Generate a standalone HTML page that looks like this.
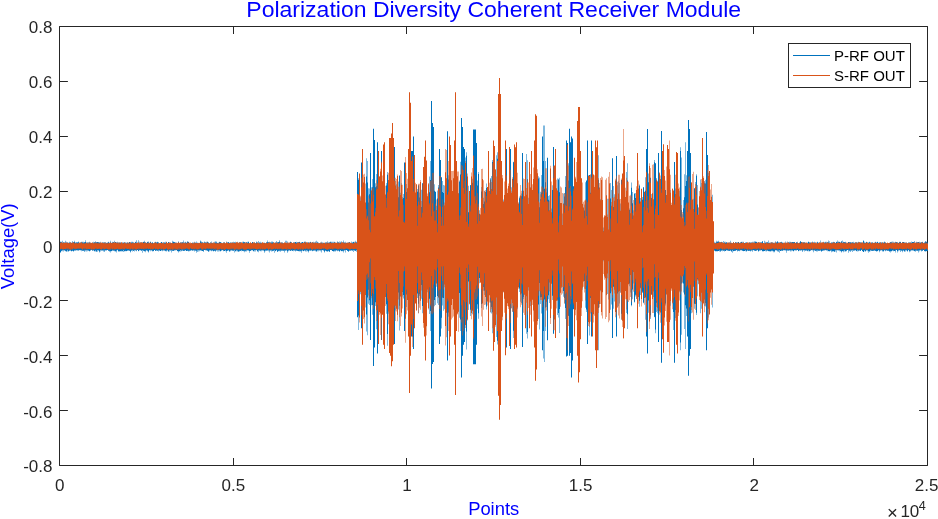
<!DOCTYPE html>
<html><head><meta charset="utf-8"><title>Polarization Diversity Coherent Receiver Module</title>
<style>html,body{margin:0;padding:0;background:#fff}body{width:938px;height:519px;overflow:hidden}</style></head>
<body>
<svg width="938" height="519" viewBox="0 0 938 519" style="display:block">
<rect width="938" height="519" fill="#fff"/>
<path d="M59.5 26.5H927.5V465.5H59.5ZM59.5 465.5v-7.5M59.5 26.5v7.5M233.5 465.5v-7.5M233.5 26.5v7.5M406.5 465.5v-7.5M406.5 26.5v7.5M580.5 465.5v-7.5M580.5 26.5v7.5M753.5 465.5v-7.5M753.5 26.5v7.5M927.5 465.5v-7.5M927.5 26.5v7.5M59.5 26.5h8.4M927.5 26.5h-8.4M59.5 81.5h8.4M927.5 81.5h-8.4M59.5 136.5h8.4M927.5 136.5h-8.4M59.5 191.5h8.4M927.5 191.5h-8.4M59.5 246.5h8.4M927.5 246.5h-8.4M59.5 300.5h8.4M927.5 300.5h-8.4M59.5 355.5h8.4M927.5 355.5h-8.4M59.5 410.5h8.4M927.5 410.5h-8.4M59.5 465.5h8.4M927.5 465.5h-8.4" fill="none" stroke="#262626" stroke-width="1"/>
<g>
<path fill="#0072BD" d="M60 241.7v11.0h0.5v-11.0zM60.5 241.7v10.5h0.5v-10.5zM61 242.6v8.7h0.5v-8.7zM61.5 241.8v9.0h0.5v-9.0zM62 243.2v8.1h0.5v-8.1zM62.5 240.8v9.1h0.5v-9.1zM63 241.9v9.5h0.5v-9.5zM63.5 242.8v7.3h0.5v-7.3zM64 243.5v6.7h0.5v-6.7zM64.5 242.1v8.4h0.5v-8.4zM65 240.8v10.0h0.5v-10.0zM65.5 242.7v8.5h0.5v-8.5zM66 243.4v8.6h0.5v-8.6zM66.5 241.7v9.2h0.5v-9.2zM67 242.5v7.6h0.5v-7.6zM67.5 242.6v8.8h0.5v-8.8zM68 242.7v8.9h0.5v-8.9zM68.5 243.2v8.1h0.5v-8.1zM69 242.8v7.8h0.5v-7.8zM69.5 241.7v9.1h0.5v-9.1zM70 243.5v7.6h0.5v-7.6zM70.5 241.9v8.2h0.5v-8.2zM71 242.7v8.6h0.5v-8.6zM71.5 243.1v8.2h0.5v-8.2zM72 242.8v8.2h0.5v-8.2zM72.5 240.9v9.5h0.5v-9.5zM73 242.6v8.8h0.5v-8.8zM73.5 242.0v9.2h0.5v-9.2zM74 242.1v8.6h0.5v-8.6zM74.5 240.8v9.4h0.5v-9.4zM75 243.3v7.5h0.5v-7.5zM75.5 242.3v7.9h0.5v-7.9zM76 242.1v7.9h0.5v-7.9zM76.5 242.7v7.9h0.5v-7.9zM77 242.5v7.4h0.5v-7.4zM77.5 242.2v8.5h0.5v-8.5zM78 241.6v8.5h0.5v-8.5zM78.5 242.3v8.7h0.5v-8.7zM79 243.0v7.0h0.5v-7.0zM79.5 243.3v6.9h0.5v-6.9zM80 243.3v7.1h0.5v-7.1zM80.5 241.9v8.0h0.5v-8.0zM81 241.8v9.4h0.5v-9.4zM81.5 242.4v7.6h0.5v-7.6zM82 241.7v8.8h0.5v-8.8zM82.5 242.5v8.4h0.5v-8.4zM83 241.7v9.0h0.5v-9.0zM83.5 242.9v7.8h0.5v-7.8zM84 242.5v9.4h0.5v-9.4zM84.5 242.0v8.4h0.5v-8.4zM85 242.0v9.2h0.5v-9.2zM85.5 240.3v9.8h0.5v-9.8zM86 242.8v8.7h0.5v-8.7zM86.5 243.3v6.7h0.5v-6.7zM87 243.2v8.0h0.5v-8.0zM87.5 242.0v8.1h0.5v-8.1zM88 242.2v8.3h0.5v-8.3zM88.5 243.5v7.2h0.5v-7.2zM89 241.8v9.4h0.5v-9.4zM89.5 242.7v8.5h0.5v-8.5zM90 242.5v7.7h0.5v-7.7zM90.5 243.2v7.6h0.5v-7.6zM91 243.2v6.6h0.5v-6.6zM91.5 243.1v6.9h0.5v-6.9zM92 242.2v8.1h0.5v-8.1zM92.5 243.0v8.0h0.5v-8.0zM93 241.8v8.9h0.5v-8.9zM93.5 243.4v6.7h0.5v-6.7zM94 242.1v9.3h0.5v-9.3zM94.5 242.6v8.4h0.5v-8.4zM95 242.6v7.6h0.5v-7.6zM95.5 241.3v10.1h0.5v-10.1zM96 242.6v9.1h0.5v-9.1zM96.5 242.1v9.3h0.5v-9.3zM97 242.0v7.9h0.5v-7.9zM97.5 242.1v9.7h0.5v-9.7zM98 242.5v8.1h0.5v-8.1zM98.5 241.9v8.6h0.5v-8.6zM99 242.3v10.3h0.5v-10.3zM99.5 242.8v8.7h0.5v-8.7zM100 241.8v8.3h0.5v-8.3zM100.5 243.5v7.9h0.5v-7.9zM101 243.1v7.4h0.5v-7.4zM101.5 243.5v7.1h0.5v-7.1zM102 243.3v7.5h0.5v-7.5zM102.5 242.1v8.1h0.5v-8.1zM103 243.4v6.8h0.5v-6.8zM103.5 241.9v9.5h0.5v-9.5zM104 241.9v10.2h0.5v-10.2zM104.5 243.3v7.1h0.5v-7.1zM105 241.9v8.1h0.5v-8.1zM105.5 243.5v7.3h0.5v-7.3zM106 242.7v7.4h0.5v-7.4zM106.5 243.2v7.6h0.5v-7.6zM107 242.9v7.0h0.5v-7.0zM107.5 242.5v7.4h0.5v-7.4zM108 241.8v9.3h0.5v-9.3zM108.5 242.2v8.4h0.5v-8.4zM109 242.4v8.4h0.5v-8.4zM109.5 243.4v8.4h0.5v-8.4zM110 240.7v11.9h0.5v-11.9zM110.5 242.4v8.6h0.5v-8.6zM111 243.0v8.3h0.5v-8.3zM111.5 242.7v8.2h0.5v-8.2zM112 241.7v8.6h0.5v-8.6zM112.5 242.7v8.0h0.5v-8.0zM113 242.3v8.5h0.5v-8.5zM113.5 242.1v8.3h0.5v-8.3zM114 243.3v8.0h0.5v-8.0zM114.5 240.8v9.8h0.5v-9.8zM115 242.0v9.2h0.5v-9.2zM115.5 242.0v9.5h0.5v-9.5zM116 241.9v8.6h0.5v-8.6zM116.5 243.2v9.2h0.5v-9.2zM117 241.8v8.0h0.5v-8.0zM117.5 243.0v7.2h0.5v-7.2zM118 243.4v7.9h0.5v-7.9zM118.5 242.3v9.2h0.5v-9.2zM119 242.5v8.9h0.5v-8.9zM119.5 242.7v8.5h0.5v-8.5zM120 242.2v9.3h0.5v-9.3zM120.5 242.7v8.4h0.5v-8.4zM121 242.9v7.8h0.5v-7.8zM121.5 243.3v8.1h0.5v-8.1zM122 242.3v8.7h0.5v-8.7zM122.5 243.4v8.0h0.5v-8.0zM123 242.6v9.5h0.5v-9.5zM123.5 242.8v7.3h0.5v-7.3zM124 241.9v9.4h0.5v-9.4zM124.5 242.7v8.6h0.5v-8.6zM125 243.5v7.3h0.5v-7.3zM125.5 242.3v8.9h0.5v-8.9zM126 242.6v8.7h0.5v-8.7zM126.5 243.4v7.5h0.5v-7.5zM127 243.0v8.0h0.5v-8.0zM127.5 242.0v8.2h0.5v-8.2zM128 243.1v7.6h0.5v-7.6zM128.5 243.2v7.0h0.5v-7.0zM129 242.1v8.7h0.5v-8.7zM129.5 242.0v8.8h0.5v-8.8zM130 242.3v9.3h0.5v-9.3zM130.5 243.2v9.2h0.5v-9.2zM131 241.7v8.6h0.5v-8.6zM131.5 242.8v8.1h0.5v-8.1zM132 241.8v8.1h0.5v-8.1zM132.5 242.5v9.0h0.5v-9.0zM133 242.3v8.4h0.5v-8.4zM133.5 243.2v7.8h0.5v-7.8zM134 242.7v7.3h0.5v-7.3zM134.5 243.3v8.1h0.5v-8.1zM135 242.0v8.3h0.5v-8.3zM135.5 241.8v8.6h0.5v-8.6zM136 242.8v7.7h0.5v-7.7zM136.5 240.3v10.9h0.5v-10.9zM137 243.4v6.6h0.5v-6.6zM137.5 242.2v7.9h0.5v-7.9zM138 243.1v8.1h0.5v-8.1zM138.5 240.3v10.7h0.5v-10.7zM139 241.8v8.7h0.5v-8.7zM139.5 243.4v6.7h0.5v-6.7zM140 242.5v7.8h0.5v-7.8zM140.5 243.3v7.0h0.5v-7.0zM141 242.8v8.3h0.5v-8.3zM141.5 242.0v8.6h0.5v-8.6zM142 243.3v6.7h0.5v-6.7zM142.5 242.9v9.8h0.5v-9.8zM143 241.7v9.1h0.5v-9.1zM143.5 241.9v8.9h0.5v-8.9zM144 242.3v9.0h0.5v-9.0zM144.5 240.7v10.5h0.5v-10.5zM145 243.1v7.6h0.5v-7.6zM145.5 242.1v10.2h0.5v-10.2zM146 242.9v7.2h0.5v-7.2zM146.5 242.8v7.9h0.5v-7.9zM147 241.7v9.6h0.5v-9.6zM147.5 242.1v8.5h0.5v-8.5zM148 242.4v10.0h0.5v-10.0zM148.5 241.6v9.9h0.5v-9.9zM149 243.0v7.4h0.5v-7.4zM149.5 243.3v6.8h0.5v-6.8zM150 241.6v9.7h0.5v-9.7zM150.5 241.9v8.2h0.5v-8.2zM151 242.7v7.8h0.5v-7.8zM151.5 243.2v7.0h0.5v-7.0zM152 242.2v9.2h0.5v-9.2zM152.5 242.4v8.4h0.5v-8.4zM153 243.3v7.6h0.5v-7.6zM153.5 243.5v7.7h0.5v-7.7zM154 242.2v7.7h0.5v-7.7zM154.5 243.1v7.0h0.5v-7.0zM155 241.7v9.3h0.5v-9.3zM155.5 242.3v8.4h0.5v-8.4zM156 243.1v7.6h0.5v-7.6zM156.5 242.0v8.3h0.5v-8.3zM157 242.2v8.8h0.5v-8.8zM157.5 241.7v8.8h0.5v-8.8zM158 243.4v6.8h0.5v-6.8zM158.5 242.1v9.3h0.5v-9.3zM159 243.5v6.7h0.5v-6.7zM159.5 243.0v7.7h0.5v-7.7zM160 243.4v7.7h0.5v-7.7zM160.5 242.8v8.3h0.5v-8.3zM161 241.9v8.8h0.5v-8.8zM161.5 242.0v7.9h0.5v-7.9zM162 243.2v8.1h0.5v-8.1zM162.5 242.6v7.6h0.5v-7.6zM163 243.4v6.5h0.5v-6.5zM163.5 242.3v8.5h0.5v-8.5zM164 242.4v8.0h0.5v-8.0zM164.5 242.6v8.0h0.5v-8.0zM165 241.7v9.1h0.5v-9.1zM165.5 243.1v8.2h0.5v-8.2zM166 241.8v9.7h0.5v-9.7zM166.5 242.2v8.3h0.5v-8.3zM167 243.1v7.4h0.5v-7.4zM167.5 243.5v6.8h0.5v-6.8zM168 242.0v9.4h0.5v-9.4zM168.5 241.9v9.6h0.5v-9.6zM169 242.6v8.9h0.5v-8.9zM169.5 243.5v6.6h0.5v-6.6zM170 243.1v7.3h0.5v-7.3zM170.5 242.5v8.0h0.5v-8.0zM171 243.1v9.5h0.5v-9.5zM171.5 243.5v6.8h0.5v-6.8zM172 242.8v7.9h0.5v-7.9zM172.5 240.7v10.1h0.5v-10.1zM173 242.0v8.8h0.5v-8.8zM173.5 241.6v9.4h0.5v-9.4zM174 242.1v8.7h0.5v-8.7zM174.5 242.3v7.7h0.5v-7.7zM175 243.1v6.9h0.5v-6.9zM175.5 242.2v8.3h0.5v-8.3zM176 243.4v6.6h0.5v-6.6zM176.5 242.5v7.8h0.5v-7.8zM177 243.0v8.1h0.5v-8.1zM177.5 243.4v7.9h0.5v-7.9zM178 242.2v9.1h0.5v-9.1zM178.5 241.2v11.4h0.5v-11.4zM179 243.3v8.3h0.5v-8.3zM179.5 243.0v8.0h0.5v-8.0zM180 242.2v7.7h0.5v-7.7zM180.5 242.8v8.7h0.5v-8.7zM181 243.2v8.0h0.5v-8.0zM181.5 242.0v8.4h0.5v-8.4zM182 242.6v8.5h0.5v-8.5zM182.5 241.9v7.9h0.5v-7.9zM183 240.5v10.4h0.5v-10.4zM183.5 242.7v8.1h0.5v-8.1zM184 243.2v7.3h0.5v-7.3zM184.5 242.3v8.8h0.5v-8.8zM185 241.7v8.3h0.5v-8.3zM185.5 242.5v8.1h0.5v-8.1zM186 242.9v8.1h0.5v-8.1zM186.5 242.4v8.6h0.5v-8.6zM187 241.7v9.3h0.5v-9.3zM187.5 241.2v9.4h0.5v-9.4zM188 241.8v9.6h0.5v-9.6zM188.5 241.9v8.9h0.5v-8.9zM189 243.5v7.0h0.5v-7.0zM189.5 242.9v8.4h0.5v-8.4zM190 243.5v6.9h0.5v-6.9zM190.5 243.4v7.4h0.5v-7.4zM191 242.9v7.2h0.5v-7.2zM191.5 243.1v7.4h0.5v-7.4zM192 242.3v8.4h0.5v-8.4zM192.5 243.2v7.2h0.5v-7.2zM193 243.5v6.7h0.5v-6.7zM193.5 242.7v7.9h0.5v-7.9zM194 241.7v9.7h0.5v-9.7zM194.5 243.0v7.2h0.5v-7.2zM195 242.2v8.1h0.5v-8.1zM195.5 242.9v8.1h0.5v-8.1zM196 241.4v11.4h0.5v-11.4zM196.5 243.0v7.8h0.5v-7.8zM197 243.2v7.0h0.5v-7.0zM197.5 242.4v9.5h0.5v-9.5zM198 243.3v6.7h0.5v-6.7zM198.5 242.9v8.5h0.5v-8.5zM199 243.0v6.9h0.5v-6.9zM199.5 243.0v8.3h0.5v-8.3zM200 241.6v8.8h0.5v-8.8zM200.5 240.4v9.8h0.5v-9.8zM201 242.5v7.8h0.5v-7.8zM201.5 241.6v9.3h0.5v-9.3zM202 242.3v8.6h0.5v-8.6zM202.5 242.4v8.7h0.5v-8.7zM203 243.5v7.2h0.5v-7.2zM203.5 242.5v9.5h0.5v-9.5zM204 241.5v8.6h0.5v-8.6zM204.5 242.6v7.4h0.5v-7.4zM205 242.8v7.5h0.5v-7.5zM205.5 242.1v8.1h0.5v-8.1zM206 241.8v8.1h0.5v-8.1zM206.5 242.9v7.8h0.5v-7.8zM207 242.0v9.0h0.5v-9.0zM207.5 241.6v9.0h0.5v-9.0zM208 242.4v9.5h0.5v-9.5zM208.5 242.6v8.7h0.5v-8.7zM209 243.5v7.8h0.5v-7.8zM209.5 243.2v6.7h0.5v-6.7zM210 241.9v8.7h0.5v-8.7zM210.5 243.5v6.7h0.5v-6.7zM211 241.4v9.9h0.5v-9.9zM211.5 243.2v7.4h0.5v-7.4zM212 243.3v7.4h0.5v-7.4zM212.5 243.0v7.2h0.5v-7.2zM213 242.6v8.7h0.5v-8.7zM213.5 243.5v7.7h0.5v-7.7zM214 243.4v7.1h0.5v-7.1zM214.5 241.8v9.1h0.5v-9.1zM215 241.2v10.5h0.5v-10.5zM215.5 242.6v8.1h0.5v-8.1zM216 241.4v8.6h0.5v-8.6zM216.5 242.6v8.1h0.5v-8.1zM217 243.0v7.1h0.5v-7.1zM217.5 242.7v8.8h0.5v-8.8zM218 243.2v6.7h0.5v-6.7zM218.5 242.4v9.0h0.5v-9.0zM219 241.8v9.4h0.5v-9.4zM219.5 242.0v8.0h0.5v-8.0zM220 242.2v9.0h0.5v-9.0zM220.5 242.0v9.3h0.5v-9.3zM221 243.2v7.5h0.5v-7.5zM221.5 242.5v7.7h0.5v-7.7zM222 243.2v6.9h0.5v-6.9zM222.5 243.4v6.9h0.5v-6.9zM223 242.9v8.4h0.5v-8.4zM223.5 242.0v8.4h0.5v-8.4zM224 243.2v7.7h0.5v-7.7zM224.5 241.9v9.1h0.5v-9.1zM225 243.4v6.5h0.5v-6.5zM225.5 243.4v7.9h0.5v-7.9zM226 241.6v11.2h0.5v-11.2zM226.5 243.1v7.8h0.5v-7.8zM227 243.1v7.3h0.5v-7.3zM227.5 242.0v9.0h0.5v-9.0zM228 242.0v8.0h0.5v-8.0zM228.5 242.2v8.6h0.5v-8.6zM229 242.9v9.1h0.5v-9.1zM229.5 242.7v8.3h0.5v-8.3zM230 242.8v7.4h0.5v-7.4zM230.5 242.2v9.1h0.5v-9.1zM231 242.6v8.1h0.5v-8.1zM231.5 243.3v6.8h0.5v-6.8zM232 243.1v7.6h0.5v-7.6zM232.5 242.1v8.4h0.5v-8.4zM233 243.4v7.0h0.5v-7.0zM233.5 241.7v9.3h0.5v-9.3zM234 242.3v10.3h0.5v-10.3zM234.5 242.5v7.6h0.5v-7.6zM235 243.1v7.9h0.5v-7.9zM235.5 241.7v9.8h0.5v-9.8zM236 243.0v8.3h0.5v-8.3zM236.5 242.8v7.2h0.5v-7.2zM237 243.2v7.2h0.5v-7.2zM237.5 241.8v9.6h0.5v-9.6zM238 243.0v8.8h0.5v-8.8zM238.5 243.4v8.0h0.5v-8.0zM239 242.6v8.2h0.5v-8.2zM239.5 242.3v9.1h0.5v-9.1zM240 242.4v8.7h0.5v-8.7zM240.5 242.0v8.7h0.5v-8.7zM241 243.2v8.1h0.5v-8.1zM241.5 243.1v7.0h0.5v-7.0zM242 243.5v7.4h0.5v-7.4zM242.5 241.8v8.9h0.5v-8.9zM243 241.4v9.8h0.5v-9.8zM243.5 242.2v8.5h0.5v-8.5zM244 242.1v10.1h0.5v-10.1zM244.5 242.2v8.6h0.5v-8.6zM245 243.4v7.4h0.5v-7.4zM245.5 242.5v8.9h0.5v-8.9zM246 242.3v9.1h0.5v-9.1zM246.5 242.2v8.1h0.5v-8.1zM247 242.9v7.6h0.5v-7.6zM247.5 241.8v8.5h0.5v-8.5zM248 241.7v9.0h0.5v-9.0zM248.5 241.8v8.5h0.5v-8.5zM249 243.4v9.3h0.5v-9.3zM249.5 243.3v7.6h0.5v-7.6zM250 243.2v7.6h0.5v-7.6zM250.5 242.9v8.0h0.5v-8.0zM251 243.3v7.0h0.5v-7.0zM251.5 243.2v7.0h0.5v-7.0zM252 242.0v8.5h0.5v-8.5zM252.5 241.9v8.2h0.5v-8.2zM253 242.7v8.8h0.5v-8.8zM253.5 242.9v8.1h0.5v-8.1zM254 243.1v7.0h0.5v-7.0zM254.5 242.0v9.4h0.5v-9.4zM255 243.1v8.5h0.5v-8.5zM255.5 243.5v6.6h0.5v-6.6zM256 242.6v7.7h0.5v-7.7zM256.5 241.5v8.4h0.5v-8.4zM257 243.0v8.4h0.5v-8.4zM257.5 242.3v8.9h0.5v-8.9zM258 243.2v7.0h0.5v-7.0zM258.5 241.1v11.2h0.5v-11.2zM259 241.9v9.1h0.5v-9.1zM259.5 243.3v6.6h0.5v-6.6zM260 241.7v8.9h0.5v-8.9zM260.5 243.1v8.2h0.5v-8.2zM261 242.5v7.5h0.5v-7.5zM261.5 243.2v8.0h0.5v-8.0zM262 242.6v7.7h0.5v-7.7zM262.5 243.5v6.9h0.5v-6.9zM263 243.0v7.0h0.5v-7.0zM263.5 243.0v8.0h0.5v-8.0zM264 243.0v9.8h0.5v-9.8zM264.5 242.6v8.7h0.5v-8.7zM265 243.4v6.8h0.5v-6.8zM265.5 243.2v8.1h0.5v-8.1zM266 242.0v8.7h0.5v-8.7zM266.5 242.8v7.8h0.5v-7.8zM267 242.3v8.3h0.5v-8.3zM267.5 240.5v9.9h0.5v-9.9zM268 242.1v7.7h0.5v-7.7zM268.5 242.4v8.8h0.5v-8.8zM269 242.7v9.9h0.5v-9.9zM269.5 241.7v8.9h0.5v-8.9zM270 243.1v7.5h0.5v-7.5zM270.5 242.0v8.6h0.5v-8.6zM271 242.8v7.4h0.5v-7.4zM271.5 241.5v9.9h0.5v-9.9zM272 242.6v8.7h0.5v-8.7zM272.5 241.5v9.2h0.5v-9.2zM273 242.7v8.2h0.5v-8.2zM273.5 242.0v8.5h0.5v-8.5zM274 243.4v6.6h0.5v-6.6zM274.5 243.2v9.5h0.5v-9.5zM275 241.9v9.3h0.5v-9.3zM275.5 243.1v7.8h0.5v-7.8zM276 241.0v9.2h0.5v-9.2zM276.5 242.7v7.5h0.5v-7.5zM277 242.4v9.5h0.5v-9.5zM277.5 242.3v9.2h0.5v-9.2zM278 241.9v8.8h0.5v-8.8zM278.5 242.2v9.1h0.5v-9.1zM279 240.3v10.3h0.5v-10.3zM279.5 241.8v9.4h0.5v-9.4zM280 242.4v9.3h0.5v-9.3zM280.5 243.4v7.0h0.5v-7.0zM281 243.2v7.1h0.5v-7.1zM281.5 242.0v9.0h0.5v-9.0zM282 243.2v7.2h0.5v-7.2zM282.5 242.3v8.4h0.5v-8.4zM283 243.0v7.4h0.5v-7.4zM283.5 243.5v7.4h0.5v-7.4zM284 242.8v7.6h0.5v-7.6zM284.5 243.1v9.5h0.5v-9.5zM285 242.9v7.5h0.5v-7.5zM285.5 240.7v10.0h0.5v-10.0zM286 243.4v7.3h0.5v-7.3zM286.5 240.8v9.2h0.5v-9.2zM287 243.5v9.3h0.5v-9.3zM287.5 241.6v9.7h0.5v-9.7zM288 243.4v6.8h0.5v-6.8zM288.5 242.8v8.4h0.5v-8.4zM289 243.5v6.4h0.5v-6.4zM289.5 242.8v7.9h0.5v-7.9zM290 241.7v9.0h0.5v-9.0zM290.5 241.8v9.1h0.5v-9.1zM291 241.9v8.7h0.5v-8.7zM291.5 242.9v7.4h0.5v-7.4zM292 243.4v7.7h0.5v-7.7zM292.5 243.4v7.3h0.5v-7.3zM293 243.3v6.7h0.5v-6.7zM293.5 242.1v9.2h0.5v-9.2zM294 242.3v8.5h0.5v-8.5zM294.5 242.8v7.4h0.5v-7.4zM295 242.0v9.4h0.5v-9.4zM295.5 242.1v8.4h0.5v-8.4zM296 241.8v8.9h0.5v-8.9zM296.5 242.9v7.6h0.5v-7.6zM297 242.8v8.2h0.5v-8.2zM297.5 242.0v8.7h0.5v-8.7zM298 242.1v9.1h0.5v-9.1zM298.5 242.6v8.3h0.5v-8.3zM299 241.9v8.8h0.5v-8.8zM299.5 241.7v9.7h0.5v-9.7zM300 243.1v8.3h0.5v-8.3zM300.5 243.3v7.5h0.5v-7.5zM301 243.0v9.7h0.5v-9.7zM301.5 241.9v8.8h0.5v-8.8zM302 242.0v8.9h0.5v-8.9zM302.5 242.0v7.9h0.5v-7.9zM303 242.3v8.9h0.5v-8.9zM303.5 243.3v7.6h0.5v-7.6zM304 241.7v9.1h0.5v-9.1zM304.5 241.8v8.4h0.5v-8.4zM305 241.4v10.1h0.5v-10.1zM305.5 242.5v7.9h0.5v-7.9zM306 242.6v7.5h0.5v-7.5zM306.5 243.5v7.9h0.5v-7.9zM307 243.4v7.1h0.5v-7.1zM307.5 242.4v8.9h0.5v-8.9zM308 242.2v9.0h0.5v-9.0zM308.5 242.5v10.0h0.5v-10.0zM309 242.8v7.4h0.5v-7.4zM309.5 242.7v8.0h0.5v-8.0zM310 241.9v8.8h0.5v-8.8zM310.5 241.8v8.7h0.5v-8.7zM311 243.2v7.1h0.5v-7.1zM311.5 242.7v7.8h0.5v-7.8zM312 242.6v8.6h0.5v-8.6zM312.5 241.9v8.8h0.5v-8.8zM313 241.8v8.9h0.5v-8.9zM313.5 242.9v7.5h0.5v-7.5zM314 243.5v7.6h0.5v-7.6zM314.5 242.2v7.8h0.5v-7.8zM315 241.4v8.8h0.5v-8.8zM315.5 242.8v8.4h0.5v-8.4zM316 243.1v7.8h0.5v-7.8zM316.5 240.7v11.3h0.5v-11.3zM317 241.8v9.5h0.5v-9.5zM317.5 242.6v7.4h0.5v-7.4zM318 243.5v6.4h0.5v-6.4zM318.5 242.5v8.7h0.5v-8.7zM319 243.2v7.0h0.5v-7.0zM319.5 243.2v7.2h0.5v-7.2zM320 242.5v7.6h0.5v-7.6zM320.5 243.2v8.1h0.5v-8.1zM321 242.9v7.4h0.5v-7.4zM321.5 241.7v10.9h0.5v-10.9zM322 242.2v8.0h0.5v-8.0zM322.5 243.4v6.7h0.5v-6.7zM323 242.9v8.1h0.5v-8.1zM323.5 242.7v7.4h0.5v-7.4zM324 242.9v9.5h0.5v-9.5zM324.5 243.3v8.1h0.5v-8.1zM325 242.0v8.2h0.5v-8.2zM325.5 243.3v7.7h0.5v-7.7zM326 241.9v9.0h0.5v-9.0zM326.5 243.4v8.0h0.5v-8.0zM327 241.3v10.1h0.5v-10.1zM327.5 243.1v8.4h0.5v-8.4zM328 242.8v7.9h0.5v-7.9zM328.5 242.4v8.8h0.5v-8.8zM329 242.3v9.1h0.5v-9.1zM329.5 242.5v9.6h0.5v-9.6zM330 241.9v8.2h0.5v-8.2zM330.5 241.6v8.3h0.5v-8.3zM331 241.7v8.6h0.5v-8.6zM331.5 242.7v7.2h0.5v-7.2zM332 241.7v9.4h0.5v-9.4zM332.5 243.0v8.0h0.5v-8.0zM333 241.8v9.4h0.5v-9.4zM333.5 243.0v8.4h0.5v-8.4zM334 241.7v9.7h0.5v-9.7zM334.5 242.2v8.2h0.5v-8.2zM335 242.8v8.6h0.5v-8.6zM335.5 242.5v8.1h0.5v-8.1zM336 243.0v7.8h0.5v-7.8zM336.5 243.2v6.8h0.5v-6.8zM337 242.6v8.6h0.5v-8.6zM337.5 241.3v9.1h0.5v-9.1zM338 242.2v8.2h0.5v-8.2zM338.5 242.4v8.4h0.5v-8.4zM339 241.6v9.9h0.5v-9.9zM339.5 243.0v8.4h0.5v-8.4zM340 242.8v8.0h0.5v-8.0zM340.5 241.8v8.2h0.5v-8.2zM341 242.9v8.3h0.5v-8.3zM341.5 241.2v9.7h0.5v-9.7zM342 242.3v8.4h0.5v-8.4zM342.5 242.8v8.4h0.5v-8.4zM343 240.5v11.9h0.5v-11.9zM343.5 242.6v8.1h0.5v-8.1zM344 242.8v7.1h0.5v-7.1zM344.5 242.6v8.1h0.5v-8.1zM345 241.7v10.9h0.5v-10.9zM345.5 243.2v6.9h0.5v-6.9zM346 243.0v7.0h0.5v-7.0zM346.5 242.8v7.2h0.5v-7.2zM347 242.8v7.9h0.5v-7.9zM347.5 242.9v8.0h0.5v-8.0zM348 243.4v7.9h0.5v-7.9zM348.5 242.1v9.9h0.5v-9.9zM349 242.2v8.7h0.5v-8.7zM349.5 242.1v8.2h0.5v-8.2zM350 243.1v8.0h0.5v-8.0zM350.5 243.4v6.9h0.5v-6.9zM351 241.6v8.7h0.5v-8.7zM351.5 243.1v7.4h0.5v-7.4zM352 243.2v7.9h0.5v-7.9zM352.5 241.9v8.3h0.5v-8.3zM353 241.8v10.3h0.5v-10.3zM353.5 241.9v8.2h0.5v-8.2zM354 241.7v9.3h0.5v-9.3zM354.5 243.0v7.1h0.5v-7.1zM355 242.6v8.1h0.5v-8.1zM355.5 240.8v10.2h0.5v-10.2zM356 242.5v9.2h0.5v-9.2zM356.5 241.7v8.3h0.5v-8.3zM357 171.9v145.4h0.5v-145.4zM357.5 171.9v145.4h0.5v-145.4zM358 178.3v137.3h0.5v-137.3zM358.5 180.1v149.8h0.5v-149.8zM359 218.9v53.9h0.5v-53.9zM359.5 206.3v78.9h0.5v-78.9zM360 201.4v88.7h0.5v-88.7zM360.5 197.3v96.9h0.5v-96.9zM361 162.6v165.7h0.5v-165.7zM361.5 162.6v165.7h0.5v-165.7zM362 188.4v118.7h0.5v-118.7zM362.5 209.4v72.4h0.5v-72.4zM363 205.0v81.5h0.5v-81.5zM363.5 219.4v52.8h0.5v-52.8zM364 209.5v70.1h0.5v-70.1zM364.5 209.7v69.4h0.5v-69.4zM365 209.4v74.9h0.5v-74.9zM365.5 216.9v61.5h0.5v-61.5zM366 176.5v154.9h0.5v-154.9zM366.5 158.3v156.3h0.5v-156.3zM367 161.1v174.1h0.5v-174.1zM367.5 182.6v114.8h0.5v-114.8zM368 188.2v115.5h0.5v-115.5zM368.5 202.6v87.2h0.5v-87.2zM369 188.4v116.7h0.5v-116.7zM369.5 194.2v106.1h0.5v-106.1zM370 153.0v187.1h0.5v-187.1zM370.5 153.0v187.1h0.5v-187.1zM371 187.3v118.0h0.5v-118.0zM371.5 196.0v99.3h0.5v-99.3zM372 187.2v117.9h0.5v-117.9zM372.5 179.0v135.7h0.5v-135.7zM373 128.8v237.3h0.5v-237.3zM373.5 128.8v237.3h0.5v-237.3zM374 140.1v207.4h0.5v-207.4zM374.5 140.1v207.4h0.5v-207.4zM375 187.3v115.0h0.5v-115.0zM375.5 183.3v122.8h0.5v-122.8zM376 186.3v121.5h0.5v-121.5zM376.5 173.9v155.3h0.5v-155.3zM377 142.3v211.3h0.5v-211.3zM377.5 142.3v211.3h0.5v-211.3zM378 190.8v112.5h0.5v-112.5zM378.5 187.8v118.6h0.5v-118.6zM379 206.5v80.9h0.5v-80.9zM379.5 205.1v81.4h0.5v-81.4zM380 198.4v94.7h0.5v-94.7zM380.5 192.1v107.4h0.5v-107.4zM381 151.1v189.0h0.5v-189.0zM381.5 151.1v189.0h0.5v-189.0zM382 185.2v121.1h0.5v-121.1zM382.5 192.1v115.2h0.5v-115.2zM383 193.0v100.5h0.5v-100.5zM383.5 184.3v128.2h0.5v-128.2zM384 184.0v128.2h0.5v-128.2zM384.5 199.9v89.6h0.5v-89.6zM385 218.8v52.4h0.5v-52.4zM385.5 206.5v69.2h0.5v-69.2zM386 185.6v118.7h0.5v-118.7zM386.5 183.0v130.7h0.5v-130.7zM387 174.7v159.2h0.5v-159.2zM387.5 172.0v173.8h0.5v-173.8zM388 181.0v132.7h0.5v-132.7zM388.5 224.7v41.7h0.5v-41.7zM389 207.8v80.4h0.5v-80.4zM389.5 183.7v131.1h0.5v-131.1zM390 183.8v111.5h0.5v-111.5zM390.5 182.2v129.5h0.5v-129.5zM391 183.6v122.0h0.5v-122.0zM391.5 208.4v82.4h0.5v-82.4zM392 187.0v120.4h0.5v-120.4zM392.5 187.0v123.1h0.5v-123.1zM393 185.3v118.6h0.5v-118.6zM393.5 160.1v171.1h0.5v-171.1zM394 147.0v197.0h0.5v-197.0zM394.5 147.0v197.0h0.5v-197.0zM395 180.9v129.5h0.5v-129.5zM395.5 202.0v87.5h0.5v-87.5zM396 190.3v108.4h0.5v-108.4zM396.5 184.2v118.6h0.5v-118.6zM397 182.4v132.3h0.5v-132.3zM397.5 197.5v98.4h0.5v-98.4zM398 181.4v128.2h0.5v-128.2zM398.5 197.2v95.4h0.5v-95.4zM399 176.0v154.4h0.5v-154.4zM399.5 175.0v130.8h0.5v-130.8zM400 206.8v76.3h0.5v-76.3zM400.5 192.7v104.4h0.5v-104.4zM401 183.2v122.4h0.5v-122.4zM401.5 187.0v123.4h0.5v-123.4zM402 199.6v97.0h0.5v-97.0zM402.5 197.1v94.9h0.5v-94.9zM403 198.0v97.0h0.5v-97.0zM403.5 193.9v104.5h0.5v-104.5zM404 162.6v168.5h0.5v-168.5zM404.5 162.6v168.5h0.5v-168.5zM405 199.4v94.1h0.5v-94.1zM405.5 191.2v111.4h0.5v-111.4zM406 184.0v123.1h0.5v-123.1zM406.5 192.1v102.5h0.5v-102.5zM407 210.4v65.3h0.5v-65.3zM407.5 222.5v47.5h0.5v-47.5zM408 213.2v68.4h0.5v-68.4zM408.5 217.5v55.0h0.5v-55.0zM409 207.4v75.3h0.5v-75.3zM409.5 199.6v90.7h0.5v-90.7zM410 191.8v105.8h0.5v-105.8zM410.5 176.9v153.4h0.5v-153.4zM411 151.1v185.5h0.5v-185.5zM411.5 151.1v185.5h0.5v-185.5zM412 151.1v185.5h0.5v-185.5zM412.5 151.1v185.5h0.5v-185.5zM413 136.5v212.4h0.5v-212.4zM413.5 136.5v212.4h0.5v-212.4zM414 160.6v158.2h0.5v-158.2zM414.5 180.8v131.3h0.5v-131.3zM415 199.2v90.7h0.5v-90.7zM415.5 211.6v66.7h0.5v-66.7zM416 210.6v69.0h0.5v-69.0zM416.5 189.6v111.0h0.5v-111.0zM417 189.1v108.9h0.5v-108.9zM417.5 191.8v101.7h0.5v-101.7zM418 184.8v118.9h0.5v-118.9zM418.5 185.5v127.6h0.5v-127.6zM419 197.5v96.8h0.5v-96.8zM419.5 192.6v103.4h0.5v-103.4zM420 200.2v96.9h0.5v-96.9zM420.5 202.5v87.0h0.5v-87.0zM421 206.9v78.0h0.5v-78.0zM421.5 189.8v109.0h0.5v-109.0zM422 183.6v129.7h0.5v-129.7zM422.5 183.1v123.0h0.5v-123.0zM423 184.4v116.9h0.5v-116.9zM423.5 181.1v116.2h0.5v-116.2zM424 184.0v117.2h0.5v-117.2zM424.5 196.5v99.2h0.5v-99.2zM425 192.9v103.6h0.5v-103.6zM425.5 197.9v91.9h0.5v-91.9zM426 200.3v91.6h0.5v-91.6zM426.5 196.5v97.7h0.5v-97.7zM427 213.8v60.8h0.5v-60.8zM427.5 198.4v93.9h0.5v-93.9zM428 198.4v94.8h0.5v-94.8zM428.5 221.3v47.1h0.5v-47.1zM429 192.2v106.6h0.5v-106.6zM429.5 176.6v137.4h0.5v-137.4zM430 179.9v131.0h0.5v-131.0zM430.5 160.9v170.1h0.5v-170.1zM431 100.9v287.5h0.5v-287.5zM431.5 100.9v287.5h0.5v-287.5zM432 123.1v240.9h0.5v-240.9zM432.5 123.1v240.9h0.5v-240.9zM433 126.9v235.1h0.5v-235.1zM433.5 126.9v235.1h0.5v-235.1zM434 184.3v121.9h0.5v-121.9zM434.5 190.7v109.2h0.5v-109.2zM435 191.8v105.2h0.5v-105.2zM435.5 191.8v113.2h0.5v-113.2zM436 205.7v74.2h0.5v-74.2zM436.5 213.4v67.1h0.5v-67.1zM437 198.5v97.5h0.5v-97.5zM437.5 190.5v112.7h0.5v-112.7zM438 184.9v112.4h0.5v-112.4zM438.5 187.6v117.3h0.5v-117.3zM439 148.9v195.1h0.5v-195.1zM439.5 148.9v195.1h0.5v-195.1zM440 160.1v176.4h0.5v-176.4zM440.5 160.1v176.4h0.5v-176.4zM441 177.2v140.5h0.5v-140.5zM441.5 177.2v151.4h0.5v-151.4zM442 181.0v124.6h0.5v-124.6zM442.5 192.1v105.3h0.5v-105.3zM443 193.1v105.0h0.5v-105.0zM443.5 185.1v125.7h0.5v-125.7zM444 185.5v123.8h0.5v-123.8zM444.5 220.5v54.6h0.5v-54.6zM445 203.2v85.5h0.5v-85.5zM445.5 202.6v86.7h0.5v-86.7zM446 187.9v116.1h0.5v-116.1zM446.5 178.9v134.1h0.5v-134.1zM447 131.3v229.1h0.5v-229.1zM447.5 131.3v229.1h0.5v-229.1zM448 175.2v141.5h0.5v-141.5zM448.5 179.4v133.1h0.5v-133.1zM449 204.4v83.2h0.5v-83.2zM449.5 209.7v72.5h0.5v-72.5zM450 222.3v49.4h0.5v-49.4zM450.5 231.4v28.7h0.5v-28.7zM451 230.6v31.6h0.5v-31.6zM451.5 210.8v71.1h0.5v-71.1zM452 199.5v92.2h0.5v-92.2zM452.5 201.2v89.1h0.5v-89.1zM453 219.3v50.1h0.5v-50.1zM453.5 207.7v78.6h0.5v-78.6zM454 192.7v113.4h0.5v-113.4zM454.5 197.1v98.7h0.5v-98.7zM455 186.1v113.7h0.5v-113.7zM455.5 186.1v116.9h0.5v-116.9zM456 215.6v57.6h0.5v-57.6zM456.5 233.7v24.9h0.5v-24.9zM457 233.7v23.8h0.5v-23.8zM457.5 197.7v97.3h0.5v-97.3zM458 192.9v111.3h0.5v-111.3zM458.5 204.4v80.8h0.5v-80.8zM459 181.7v111.4h0.5v-111.4zM459.5 180.5v137.3h0.5v-137.3zM460 174.5v145.0h0.5v-145.0zM460.5 161.8v169.2h0.5v-169.2zM461 118.1v259.3h0.5v-259.3zM461.5 118.1v259.3h0.5v-259.3zM462 126.9v228.8h0.5v-228.8zM462.5 126.9v228.8h0.5v-228.8zM463 147.0v197.8h0.5v-197.8zM463.5 147.0v197.8h0.5v-197.8zM464 148.9v193.2h0.5v-193.2zM464.5 148.9v193.2h0.5v-193.2zM465 172.4v143.6h0.5v-143.6zM465.5 157.6v161.9h0.5v-161.9zM466 152.2v197.2h0.5v-197.2zM466.5 155.7v175.7h0.5v-175.7zM467 193.7v100.5h0.5v-100.5zM467.5 181.9v131.2h0.5v-131.2zM468 185.7v124.4h0.5v-124.4zM468.5 212.3v69.2h0.5v-69.2zM469 199.9v87.0h0.5v-87.0zM469.5 194.1v96.9h0.5v-96.9zM470 185.2v124.6h0.5v-124.6zM470.5 185.1v131.0h0.5v-131.0zM471 202.5v87.7h0.5v-87.7zM471.5 192.1v108.5h0.5v-108.5zM472 178.7v135.6h0.5v-135.6zM472.5 182.8v127.8h0.5v-127.8zM473 129.4v234.9h0.5v-234.9zM473.5 129.4v234.9h0.5v-234.9zM474 129.4v234.9h0.5v-234.9zM474.5 129.4v234.9h0.5v-234.9zM475 129.4v234.9h0.5v-234.9zM475.5 129.4v234.9h0.5v-234.9zM476 143.1v201.7h0.5v-201.7zM476.5 143.1v201.7h0.5v-201.7zM477 180.6v128.2h0.5v-128.2zM477.5 185.5v118.7h0.5v-118.7zM478 171.9v146.8h0.5v-146.8zM478.5 173.9v139.3h0.5v-139.3zM479 210.3v72.9h0.5v-72.9zM479.5 214.1v64.0h0.5v-64.0zM480 215.7v63.1h0.5v-63.1zM480.5 221.4v51.5h0.5v-51.5zM481 191.6v112.5h0.5v-112.5zM481.5 187.1v120.9h0.5v-120.9zM482 192.3v110.2h0.5v-110.2zM482.5 218.9v58.1h0.5v-58.1zM483 197.8v89.2h0.5v-89.2zM483.5 204.0v86.8h0.5v-86.8zM484 201.4v89.4h0.5v-89.4zM484.5 190.7v104.2h0.5v-104.2zM485 197.1v95.9h0.5v-95.9zM485.5 196.0v95.7h0.5v-95.7zM486 183.6v126.0h0.5v-126.0zM486.5 188.0v118.4h0.5v-118.4zM487 222.8v46.8h0.5v-46.8zM487.5 212.0v64.6h0.5v-64.6zM488 205.4v78.5h0.5v-78.5zM488.5 207.9v75.9h0.5v-75.9zM489 197.7v93.5h0.5v-93.5zM489.5 197.7v92.3h0.5v-92.3zM490 179.4v123.2h0.5v-123.2zM490.5 178.1v134.3h0.5v-134.3zM491 189.2v117.7h0.5v-117.7zM491.5 175.9v137.7h0.5v-137.7zM492 159.9v173.4h0.5v-173.4zM492.5 162.1v150.1h0.5v-150.1zM493 198.0v93.0h0.5v-93.0zM493.5 216.3v63.6h0.5v-63.6zM494 201.7v83.2h0.5v-83.2zM494.5 199.5v102.7h0.5v-102.7zM495 198.4v92.9h0.5v-92.9zM495.5 211.7v63.4h0.5v-63.4zM496 209.0v73.6h0.5v-73.6zM496.5 155.2v181.9h0.5v-181.9zM497 152.2v192.3h0.5v-192.3zM497.5 158.7v182.1h0.5v-182.1zM498 203.0v84.6h0.5v-84.6zM498.5 217.2v59.0h0.5v-59.0zM499 183.9v127.5h0.5v-127.5zM499.5 174.5v157.4h0.5v-157.4zM500 174.6v162.9h0.5v-162.9zM500.5 184.7v127.2h0.5v-127.2zM501 176.4v139.9h0.5v-139.9zM501.5 178.1v137.5h0.5v-137.5zM502 211.0v72.5h0.5v-72.5zM502.5 211.7v64.6h0.5v-64.6zM503 213.5v67.5h0.5v-67.5zM503.5 199.6v92.3h0.5v-92.3zM504 199.6v90.3h0.5v-90.3zM504.5 200.9v92.2h0.5v-92.2zM505 193.0v108.3h0.5v-108.3zM505.5 185.4v124.0h0.5v-124.0zM506 148.9v198.6h0.5v-198.6zM506.5 148.9v198.6h0.5v-198.6zM507 194.6v105.1h0.5v-105.1zM507.5 196.8v100.6h0.5v-100.6zM508 205.6v81.0h0.5v-81.0zM508.5 195.9v94.6h0.5v-94.6zM509 195.9v103.5h0.5v-103.5zM509.5 194.6v105.9h0.5v-105.9zM510 148.9v200.0h0.5v-200.0zM510.5 148.9v200.0h0.5v-200.0zM511 187.2v121.1h0.5v-121.1zM511.5 198.4v98.0h0.5v-98.0zM512 200.7v87.5h0.5v-87.5zM512.5 183.5v128.6h0.5v-128.6zM513 162.3v175.7h0.5v-175.7zM513.5 161.8v168.9h0.5v-168.9zM514 180.7v130.4h0.5v-130.4zM514.5 219.5v51.5h0.5v-51.5zM515 220.9v48.9h0.5v-48.9zM515.5 222.0v47.7h0.5v-47.7zM516 207.2v73.6h0.5v-73.6zM516.5 205.2v82.8h0.5v-82.8zM517 193.9v115.3h0.5v-115.3zM517.5 191.7v112.6h0.5v-112.6zM518 203.6v81.9h0.5v-81.9zM518.5 224.5v42.8h0.5v-42.8zM519 198.3v93.6h0.5v-93.6zM519.5 196.5v92.0h0.5v-92.0zM520 199.3v102.5h0.5v-102.5zM520.5 196.5v88.1h0.5v-88.1zM521 196.2v97.4h0.5v-97.4zM521.5 193.5v109.5h0.5v-109.5zM522 153.0v194.0h0.5v-194.0zM522.5 153.0v194.0h0.5v-194.0zM523 196.6v102.4h0.5v-102.4zM523.5 198.4v98.5h0.5v-98.5zM524 208.6v78.1h0.5v-78.1zM524.5 201.9v86.2h0.5v-86.2zM525 198.9v92.0h0.5v-92.0zM525.5 197.6v94.7h0.5v-94.7zM526 217.3v56.5h0.5v-56.5zM526.5 154.1v179.7h0.5v-179.7zM527 160.3v171.8h0.5v-171.8zM527.5 179.3v159.1h0.5v-159.1zM528 197.8v92.8h0.5v-92.8zM528.5 205.0v79.1h0.5v-79.1zM529 192.7v109.6h0.5v-109.6zM529.5 192.1v115.3h0.5v-115.3zM530 192.1v98.5h0.5v-98.5zM530.5 187.0v119.1h0.5v-119.1zM531 187.0v111.2h0.5v-111.2zM531.5 196.7v100.6h0.5v-100.6zM532 204.9v78.7h0.5v-78.7zM532.5 224.2v44.5h0.5v-44.5zM533 223.0v46.0h0.5v-46.0zM533.5 229.2v32.1h0.5v-32.1zM534 204.1v89.8h0.5v-89.8zM534.5 201.7v91.9h0.5v-91.9zM535 200.2v88.6h0.5v-88.6zM535.5 185.5v114.5h0.5v-114.5zM536 185.4v118.1h0.5v-118.1zM536.5 198.4v91.0h0.5v-91.0zM537 217.4v55.8h0.5v-55.8zM537.5 218.0v59.4h0.5v-59.4zM538 178.5v126.1h0.5v-126.1zM538.5 176.2v142.9h0.5v-142.9zM539 177.6v151.8h0.5v-151.8zM539.5 207.2v75.7h0.5v-75.7zM540 191.7v112.4h0.5v-112.4zM540.5 199.3v98.0h0.5v-98.0zM541 192.5v104.5h0.5v-104.5zM541.5 175.1v138.4h0.5v-138.4zM542 136.5v213.7h0.5v-213.7zM542.5 136.5v213.7h0.5v-213.7zM543 125.5v232.9h0.5v-232.9zM543.5 160.9v170.1h0.5v-170.1zM544 125.5v236.5h0.5v-236.5zM544.5 188.7v110.7h0.5v-110.7zM545 160.9v170.1h0.5v-170.1zM545.5 182.2v125.3h0.5v-125.3zM546 198.9v92.6h0.5v-92.6zM546.5 188.6v118.5h0.5v-118.5zM547 157.7v182.5h0.5v-182.5zM547.5 157.7v182.5h0.5v-182.5zM548 195.9v103.4h0.5v-103.4zM548.5 199.7v95.6h0.5v-95.6zM549 212.3v69.6h0.5v-69.6zM549.5 195.3v107.7h0.5v-107.7zM550 187.1v125.9h0.5v-125.9zM550.5 203.8v84.2h0.5v-84.2zM551 214.8v58.8h0.5v-58.8zM551.5 208.4v71.0h0.5v-71.0zM552 189.9v105.8h0.5v-105.8zM552.5 185.3v114.6h0.5v-114.6zM553 147.0v186.8h0.5v-186.8zM553.5 147.0v186.8h0.5v-186.8zM554 182.6v119.5h0.5v-119.5zM554.5 192.3v101.3h0.5v-101.3zM555 204.7v81.9h0.5v-81.9zM555.5 208.3v74.5h0.5v-74.5zM556 200.9v95.0h0.5v-95.0zM556.5 203.6v90.3h0.5v-90.3zM557 197.0v102.8h0.5v-102.8zM557.5 178.5v136.4h0.5v-136.4zM558 178.8v138.6h0.5v-138.6zM558.5 179.8v133.1h0.5v-133.1zM559 177.8v155.3h0.5v-155.3zM559.5 192.2v116.7h0.5v-116.7zM560 205.7v77.8h0.5v-77.8zM560.5 205.7v82.6h0.5v-82.6zM561 203.9v84.1h0.5v-84.1zM561.5 204.8v80.3h0.5v-80.3zM562 226.9v36.6h0.5v-36.6zM562.5 213.4v73.7h0.5v-73.7zM563 203.8v87.1h0.5v-87.1zM563.5 193.6v103.1h0.5v-103.1zM564 193.0v110.4h0.5v-110.4zM564.5 196.4v101.5h0.5v-101.5zM565 186.9v121.0h0.5v-121.0zM565.5 176.1v143.0h0.5v-143.0zM566 140.4v216.2h0.5v-216.2zM566.5 140.4v216.2h0.5v-216.2zM567 143.1v212.6h0.5v-212.6zM567.5 143.1v212.6h0.5v-212.6zM568 180.5v135.4h0.5v-135.4zM568.5 163.2v152.6h0.5v-152.6zM569 128.8v226.9h0.5v-226.9zM569.5 128.8v226.9h0.5v-226.9zM570 142.3v210.7h0.5v-210.7zM570.5 142.3v210.7h0.5v-210.7zM571 136.5v240.9h0.5v-240.9zM571.5 136.5v240.9h0.5v-240.9zM572 138.4v222.0h0.5v-222.0zM572.5 138.4v222.0h0.5v-222.0zM573 186.3v123.2h0.5v-123.2zM573.5 186.2v122.7h0.5v-122.7zM574 178.4v132.2h0.5v-132.2zM574.5 184.3v115.8h0.5v-115.8zM575 199.7v94.6h0.5v-94.6zM575.5 201.0v94.9h0.5v-94.9zM576 201.9v88.1h0.5v-88.1zM576.5 196.6v95.9h0.5v-95.9zM577 187.9v113.6h0.5v-113.6zM577.5 184.9v122.8h0.5v-122.8zM578 185.4v113.4h0.5v-113.4zM578.5 187.8v116.4h0.5v-116.4zM579 205.4v73.4h0.5v-73.4zM579.5 205.4v78.1h0.5v-78.1zM580 233.7v25.8h0.5v-25.8zM580.5 230.4v32.2h0.5v-32.2zM581 204.2v83.3h0.5v-83.3zM581.5 194.3v105.8h0.5v-105.8zM582 203.8v86.0h0.5v-86.0zM582.5 211.0v65.1h0.5v-65.1zM583 210.9v68.4h0.5v-68.4zM583.5 223.7v48.2h0.5v-48.2zM584 210.4v70.7h0.5v-70.7zM584.5 204.4v84.4h0.5v-84.4zM585 209.4v71.2h0.5v-71.2zM585.5 182.2v125.5h0.5v-125.5zM586 180.4v131.7h0.5v-131.7zM586.5 180.4v129.0h0.5v-129.0zM587 140.4v203.6h0.5v-203.6zM587.5 140.4v203.6h0.5v-203.6zM588 185.7v116.2h0.5v-116.2zM588.5 194.2v99.9h0.5v-99.9zM589 175.1v160.4h0.5v-160.4zM589.5 175.1v124.2h0.5v-124.2zM590 192.7v105.3h0.5v-105.3zM590.5 174.8v138.7h0.5v-138.7zM591 140.4v196.2h0.5v-196.2zM591.5 140.4v196.2h0.5v-196.2zM592 163.7v145.8h0.5v-145.8zM592.5 192.1v100.0h0.5v-100.0zM593 203.5v79.0h0.5v-79.0zM593.5 204.2v77.7h0.5v-77.7zM594 219.1v55.6h0.5v-55.6zM594.5 213.6v63.6h0.5v-63.6zM595 197.5v102.9h0.5v-102.9zM595.5 197.4v101.0h0.5v-101.0zM596 208.8v75.1h0.5v-75.1zM596.5 203.3v79.9h0.5v-79.9zM597 182.4v128.9h0.5v-128.9zM597.5 155.3v180.7h0.5v-180.7zM598 155.3v195.0h0.5v-195.0zM598.5 179.8v128.1h0.5v-128.1zM599 216.1v59.2h0.5v-59.2zM599.5 218.6v52.7h0.5v-52.7zM600 206.4v78.6h0.5v-78.6zM600.5 198.9v92.4h0.5v-92.4zM601 192.2v113.9h0.5v-113.9zM601.5 210.7v76.1h0.5v-76.1zM602 226.9v37.9h0.5v-37.9zM602.5 229.1v33.8h0.5v-33.8zM603 231.3v30.0h0.5v-30.0zM603.5 227.5v32.5h0.5v-32.5zM604 216.4v60.9h0.5v-60.9zM604.5 220.3v48.9h0.5v-48.9zM605 218.0v53.3h0.5v-53.3zM605.5 231.2v30.1h0.5v-30.1zM606 195.4v93.2h0.5v-93.2zM606.5 195.2v100.1h0.5v-100.1zM607 220.3v51.1h0.5v-51.1zM607.5 198.8v95.3h0.5v-95.3zM608 198.8v100.7h0.5v-100.7zM608.5 231.6v27.7h0.5v-27.7zM609 210.6v71.6h0.5v-71.6zM609.5 183.6v128.0h0.5v-128.0zM610 182.9v126.8h0.5v-126.8zM610.5 198.4v94.8h0.5v-94.8zM611 207.3v79.3h0.5v-79.3zM611.5 190.1v114.5h0.5v-114.5zM612 158.2v179.7h0.5v-179.7zM612.5 158.2v179.7h0.5v-179.7zM613 186.0v122.8h0.5v-122.8zM613.5 207.1v79.6h0.5v-79.6zM614 213.0v67.5h0.5v-67.5zM614.5 194.3v107.2h0.5v-107.2zM615 190.1v111.9h0.5v-111.9zM615.5 187.9v117.2h0.5v-117.2zM616 156.0v180.5h0.5v-180.5zM616.5 156.0v180.5h0.5v-180.5zM617 185.3v121.9h0.5v-121.9zM617.5 198.9v94.5h0.5v-94.5zM618 202.0v82.4h0.5v-82.4zM618.5 181.2v125.0h0.5v-125.0zM619 183.0v120.5h0.5v-120.5zM619.5 230.7v30.1h0.5v-30.1zM620 230.6v28.4h0.5v-28.4zM620.5 203.4v89.4h0.5v-89.4zM621 179.8v140.0h0.5v-140.0zM621.5 179.9v133.9h0.5v-133.9zM622 204.1v88.6h0.5v-88.6zM622.5 205.0v81.8h0.5v-81.8zM623 220.6v49.2h0.5v-49.2zM623.5 210.2v66.5h0.5v-66.5zM624 207.1v79.9h0.5v-79.9zM624.5 219.4v53.1h0.5v-53.1zM625 233.7v25.4h0.5v-25.4zM625.5 228.7v34.2h0.5v-34.2zM626 197.2v93.0h0.5v-93.0zM626.5 172.1v141.0h0.5v-141.0zM627 163.3v165.8h0.5v-165.8zM627.5 180.4v133.9h0.5v-133.9zM628 226.1v40.1h0.5v-40.1zM628.5 224.3v42.7h0.5v-42.7zM629 210.0v76.3h0.5v-76.3zM629.5 208.6v74.9h0.5v-74.9zM630 218.4v53.6h0.5v-53.6zM630.5 196.2v96.4h0.5v-96.4zM631 182.6v123.7h0.5v-123.7zM631.5 187.7v117.4h0.5v-117.4zM632 192.1v107.1h0.5v-107.1zM632.5 203.3v86.1h0.5v-86.1zM633 229.2v32.8h0.5v-32.8zM633.5 210.3v73.2h0.5v-73.2zM634 193.6v108.1h0.5v-108.1zM634.5 193.5v109.1h0.5v-109.1zM635 198.1v98.5h0.5v-98.5zM635.5 193.1v101.7h0.5v-101.7zM636 192.8v106.3h0.5v-106.3zM636.5 193.5v100.8h0.5v-100.8zM637 217.1v59.7h0.5v-59.7zM637.5 227.6v37.1h0.5v-37.1zM638 217.0v57.8h0.5v-57.8zM638.5 197.2v96.6h0.5v-96.6zM639 184.4v116.4h0.5v-116.4zM639.5 185.8v121.0h0.5v-121.0zM640 212.7v75.1h0.5v-75.1zM640.5 198.0v97.1h0.5v-97.1zM641 197.4v92.8h0.5v-92.8zM641.5 199.7v94.8h0.5v-94.8zM642 197.1v96.0h0.5v-96.0zM642.5 199.8v92.0h0.5v-92.0zM643 187.5v115.7h0.5v-115.7zM643.5 187.1v115.3h0.5v-115.3zM644 209.2v73.5h0.5v-73.5zM644.5 200.1v88.7h0.5v-88.7zM645 190.8v106.6h0.5v-106.6zM645.5 177.2v142.5h0.5v-142.5zM646 148.9v187.7h0.5v-187.7zM646.5 148.9v187.7h0.5v-187.7zM647 129.1v224.4h0.5v-224.4zM647.5 129.1v224.4h0.5v-224.4zM648 173.5v139.2h0.5v-139.2zM648.5 182.3v118.3h0.5v-118.3zM649 185.2v120.2h0.5v-120.2zM649.5 192.6v99.4h0.5v-99.4zM650 178.1v140.8h0.5v-140.8zM650.5 177.4v137.8h0.5v-137.8zM651 193.9v100.4h0.5v-100.4zM651.5 197.9v96.9h0.5v-96.9zM652 223.8v45.7h0.5v-45.7zM652.5 208.0v80.2h0.5v-80.2zM653 212.2v62.8h0.5v-62.8zM653.5 200.6v96.5h0.5v-96.5zM654 162.3v154.4h0.5v-154.4zM654.5 160.0v157.2h0.5v-157.2zM655 163.4v169.9h0.5v-169.9zM655.5 163.1v166.5h0.5v-166.5zM656 182.0v120.7h0.5v-120.7zM656.5 178.1v134.0h0.5v-134.0zM657 186.7v113.6h0.5v-113.6zM657.5 180.8v132.5h0.5v-132.5zM658 153.0v189.0h0.5v-189.0zM658.5 153.0v189.0h0.5v-189.0zM659 185.4v123.2h0.5v-123.2zM659.5 191.8v109.4h0.5v-109.4zM660 189.8v113.3h0.5v-113.3zM660.5 184.5v124.1h0.5v-124.1zM661 131.0v231.8h0.5v-231.8zM661.5 131.0v231.8h0.5v-231.8zM662 184.4v124.3h0.5v-124.3zM662.5 186.1v120.7h0.5v-120.7zM663 202.9v86.9h0.5v-86.9zM663.5 203.2v86.3h0.5v-86.3zM664 218.7v55.9h0.5v-55.9zM664.5 224.3v46.1h0.5v-46.1zM665 189.9v115.7h0.5v-115.7zM665.5 189.9v113.7h0.5v-113.7zM666 202.8v86.0h0.5v-86.0zM666.5 201.3v86.0h0.5v-86.0zM667 190.6v116.0h0.5v-116.0zM667.5 182.8v134.6h0.5v-134.6zM668 177.4v141.1h0.5v-141.1zM668.5 174.4v157.0h0.5v-157.0zM669 174.9v141.7h0.5v-141.7zM669.5 193.1v106.5h0.5v-106.5zM670 190.0v105.7h0.5v-105.7zM670.5 192.9v112.8h0.5v-112.8zM671 214.3v69.8h0.5v-69.8zM671.5 214.6v59.4h0.5v-59.4zM672 216.9v69.5h0.5v-69.5zM672.5 204.6v99.0h0.5v-99.0zM673 198.6v113.3h0.5v-113.3zM673.5 191.7v138.3h0.5v-138.3zM674 162.0v200.8h0.5v-200.8zM674.5 162.0v200.8h0.5v-200.8zM675 194.2v123.9h0.5v-123.9zM675.5 188.4v121.6h0.5v-121.6zM676 186.4v119.7h0.5v-119.7zM676.5 202.4v86.7h0.5v-86.7zM677 211.4v72.9h0.5v-72.9zM677.5 210.5v73.3h0.5v-73.3zM678 205.4v74.2h0.5v-74.2zM678.5 211.4v71.9h0.5v-71.9zM679 198.3v90.1h0.5v-90.1zM679.5 190.7v101.5h0.5v-101.5zM680 150.9v199.4h0.5v-199.4zM680.5 147.2v195.2h0.5v-195.2zM681 157.5v177.3h0.5v-177.3zM681.5 210.0v73.4h0.5v-73.4zM682 218.8v51.4h0.5v-51.4zM682.5 214.2v69.1h0.5v-69.1zM683 208.3v75.1h0.5v-75.1zM683.5 200.0v92.4h0.5v-92.4zM684 197.2v97.4h0.5v-97.4zM684.5 174.2v154.8h0.5v-154.8zM685 142.3v206.6h0.5v-206.6zM685.5 186.0v119.3h0.5v-119.3zM686 175.3v140.7h0.5v-140.7zM686.5 180.9v127.6h0.5v-127.6zM687 151.1v185.5h0.5v-185.5zM687.5 151.1v185.5h0.5v-185.5zM688 120.1v255.7h0.5v-255.7zM688.5 120.1v255.7h0.5v-255.7zM689 129.1v226.6h0.5v-226.6zM689.5 129.1v226.6h0.5v-226.6zM690 153.0v195.9h0.5v-195.9zM690.5 153.0v195.9h0.5v-195.9zM691 185.2v128.0h0.5v-128.0zM691.5 202.8v91.0h0.5v-91.0zM692 204.6v86.8h0.5v-86.8zM692.5 212.3v71.0h0.5v-71.0zM693 215.2v58.6h0.5v-58.6zM693.5 198.8v85.5h0.5v-85.5zM694 188.0v115.7h0.5v-115.7zM694.5 188.5v120.2h0.5v-120.2zM695 212.0v71.3h0.5v-71.3zM695.5 182.1v119.5h0.5v-119.5zM696 174.3v140.7h0.5v-140.7zM696.5 175.8v137.0h0.5v-137.0zM697 185.0v111.3h0.5v-111.3zM697.5 204.4v74.9h0.5v-74.9zM698 207.4v76.4h0.5v-76.4zM698.5 223.4v45.5h0.5v-45.5zM699 206.1v78.1h0.5v-78.1zM699.5 207.3v71.7h0.5v-71.7zM700 203.1v91.2h0.5v-91.2zM700.5 179.4v133.9h0.5v-133.9zM701 183.0v125.7h0.5v-125.7zM701.5 210.6v67.8h0.5v-67.8zM702 212.7v63.6h0.5v-63.6zM702.5 232.3v30.0h0.5v-30.0zM703 218.9v59.4h0.5v-59.4zM703.5 192.9v109.9h0.5v-109.9zM704 180.9v125.2h0.5v-125.2zM704.5 183.2v114.1h0.5v-114.1zM705 183.6v119.4h0.5v-119.4zM705.5 179.8v126.7h0.5v-126.7zM706 131.9v218.4h0.5v-218.4zM706.5 131.9v218.4h0.5v-218.4zM707 154.9v173.4h0.5v-173.4zM707.5 154.9v173.4h0.5v-173.4zM708 172.7v144.8h0.5v-144.8zM708.5 197.8v91.7h0.5v-91.7zM709 210.1v68.4h0.5v-68.4zM709.5 213.2v62.4h0.5v-62.4zM710 229.1v33.2h0.5v-33.2zM710.5 205.4v78.3h0.5v-78.3zM711 211.6v70.6h0.5v-70.6zM711.5 215.7v63.4h0.5v-63.4zM712 216.9v57.3h0.5v-57.3zM712.5 194.8v112.8h0.5v-112.8zM713 232.3v27.4h0.5v-27.4zM713.5 232.3v27.4h0.5v-27.4zM714 243.5v7.2h0.5v-7.2zM714.5 241.7v8.9h0.5v-8.9zM715 243.2v8.2h0.5v-8.2zM715.5 242.6v8.5h0.5v-8.5zM716 240.8v10.5h0.5v-10.5zM716.5 242.2v9.0h0.5v-9.0zM717 242.1v9.1h0.5v-9.1zM717.5 241.2v10.1h0.5v-10.1zM718 241.8v9.1h0.5v-9.1zM718.5 240.7v10.4h0.5v-10.4zM719 241.7v8.6h0.5v-8.6zM719.5 242.8v8.6h0.5v-8.6zM720 242.7v8.1h0.5v-8.1zM720.5 242.0v10.0h0.5v-10.0zM721 242.3v7.9h0.5v-7.9zM721.5 241.8v9.3h0.5v-9.3zM722 242.9v8.3h0.5v-8.3zM722.5 242.4v7.7h0.5v-7.7zM723 240.9v10.1h0.5v-10.1zM723.5 243.1v7.5h0.5v-7.5zM724 241.7v9.9h0.5v-9.9zM724.5 242.8v7.7h0.5v-7.7zM725 242.9v8.0h0.5v-8.0zM725.5 241.8v9.3h0.5v-9.3zM726 242.0v8.5h0.5v-8.5zM726.5 242.6v7.5h0.5v-7.5zM727 242.7v7.6h0.5v-7.6zM727.5 242.9v7.9h0.5v-7.9zM728 242.9v7.7h0.5v-7.7zM728.5 242.4v8.6h0.5v-8.6zM729 243.5v7.5h0.5v-7.5zM729.5 242.2v8.6h0.5v-8.6zM730 240.8v10.2h0.5v-10.2zM730.5 242.9v7.2h0.5v-7.2zM731 243.0v8.1h0.5v-8.1zM731.5 243.2v8.7h0.5v-8.7zM732 243.5v6.5h0.5v-6.5zM732.5 243.0v9.7h0.5v-9.7zM733 242.4v8.7h0.5v-8.7zM733.5 241.9v9.3h0.5v-9.3zM734 243.5v7.4h0.5v-7.4zM734.5 243.0v7.7h0.5v-7.7zM735 242.1v8.3h0.5v-8.3zM735.5 242.4v8.6h0.5v-8.6zM736 242.0v8.1h0.5v-8.1zM736.5 243.1v7.2h0.5v-7.2zM737 243.2v7.2h0.5v-7.2zM737.5 242.4v9.0h0.5v-9.0zM738 241.9v9.1h0.5v-9.1zM738.5 241.9v8.7h0.5v-8.7zM739 243.1v8.1h0.5v-8.1zM739.5 243.3v7.1h0.5v-7.1zM740 242.0v8.4h0.5v-8.4zM740.5 243.3v6.7h0.5v-6.7zM741 241.9v8.1h0.5v-8.1zM741.5 241.8v8.8h0.5v-8.8zM742 243.1v7.4h0.5v-7.4zM742.5 241.7v9.2h0.5v-9.2zM743 241.8v9.4h0.5v-9.4zM743.5 243.3v7.8h0.5v-7.8zM744 243.0v7.9h0.5v-7.9zM744.5 243.0v8.0h0.5v-8.0zM745 242.2v7.7h0.5v-7.7zM745.5 243.5v7.8h0.5v-7.8zM746 242.0v9.2h0.5v-9.2zM746.5 242.7v8.7h0.5v-8.7zM747 243.5v7.0h0.5v-7.0zM747.5 243.4v7.2h0.5v-7.2zM748 243.2v7.7h0.5v-7.7zM748.5 243.2v7.6h0.5v-7.6zM749 242.8v8.1h0.5v-8.1zM749.5 242.2v8.4h0.5v-8.4zM750 243.0v8.5h0.5v-8.5zM750.5 242.2v8.5h0.5v-8.5zM751 242.0v8.6h0.5v-8.6zM751.5 243.3v7.1h0.5v-7.1zM752 241.8v10.0h0.5v-10.0zM752.5 243.1v7.2h0.5v-7.2zM753 241.8v8.4h0.5v-8.4zM753.5 243.2v6.8h0.5v-6.8zM754 241.2v9.1h0.5v-9.1zM754.5 242.7v8.3h0.5v-8.3zM755 241.9v8.9h0.5v-8.9zM755.5 241.3v9.8h0.5v-9.8zM756 241.7v9.4h0.5v-9.4zM756.5 241.9v8.3h0.5v-8.3zM757 243.1v7.2h0.5v-7.2zM757.5 242.8v7.1h0.5v-7.1zM758 242.5v8.7h0.5v-8.7zM758.5 242.1v9.4h0.5v-9.4zM759 243.1v8.0h0.5v-8.0zM759.5 243.1v6.9h0.5v-6.9zM760 243.1v6.8h0.5v-6.8zM760.5 241.9v8.8h0.5v-8.8zM761 242.3v7.9h0.5v-7.9zM761.5 242.6v7.4h0.5v-7.4zM762 241.6v9.6h0.5v-9.6zM762.5 241.1v10.2h0.5v-10.2zM763 243.4v7.8h0.5v-7.8zM763.5 243.2v8.0h0.5v-8.0zM764 243.4v7.5h0.5v-7.5zM764.5 240.8v10.1h0.5v-10.1zM765 241.7v8.4h0.5v-8.4zM765.5 242.9v8.3h0.5v-8.3zM766 242.4v8.0h0.5v-8.0zM766.5 242.5v8.9h0.5v-8.9zM767 242.5v8.1h0.5v-8.1zM767.5 242.1v8.6h0.5v-8.6zM768 242.9v8.4h0.5v-8.4zM768.5 240.4v10.5h0.5v-10.5zM769 242.6v8.4h0.5v-8.4zM769.5 243.0v8.4h0.5v-8.4zM770 243.4v7.9h0.5v-7.9zM770.5 242.4v9.1h0.5v-9.1zM771 242.7v8.6h0.5v-8.6zM771.5 242.0v8.4h0.5v-8.4zM772 242.0v9.3h0.5v-9.3zM772.5 243.3v7.1h0.5v-7.1zM773 243.1v9.2h0.5v-9.2zM773.5 243.2v7.8h0.5v-7.8zM774 243.5v8.7h0.5v-8.7zM774.5 242.4v8.9h0.5v-8.9zM775 243.1v6.9h0.5v-6.9zM775.5 241.2v9.3h0.5v-9.3zM776 242.8v7.5h0.5v-7.5zM776.5 242.0v8.4h0.5v-8.4zM777 241.6v8.8h0.5v-8.8zM777.5 241.2v10.4h0.5v-10.4zM778 242.6v7.8h0.5v-7.8zM778.5 242.6v9.3h0.5v-9.3zM779 242.7v10.0h0.5v-10.0zM779.5 242.5v7.4h0.5v-7.4zM780 242.4v8.7h0.5v-8.7zM780.5 242.1v9.0h0.5v-9.0zM781 242.2v8.1h0.5v-8.1zM781.5 241.7v9.4h0.5v-9.4zM782 242.4v8.0h0.5v-8.0zM782.5 242.7v8.2h0.5v-8.2zM783 243.5v6.6h0.5v-6.6zM783.5 242.7v7.7h0.5v-7.7zM784 243.3v7.3h0.5v-7.3zM784.5 243.4v6.7h0.5v-6.7zM785 241.6v8.6h0.5v-8.6zM785.5 243.3v7.1h0.5v-7.1zM786 243.1v7.4h0.5v-7.4zM786.5 242.7v10.1h0.5v-10.1zM787 243.2v7.5h0.5v-7.5zM787.5 241.6v8.6h0.5v-8.6zM788 242.0v8.8h0.5v-8.8zM788.5 242.8v7.7h0.5v-7.7zM789 241.7v8.6h0.5v-8.6zM789.5 242.8v7.8h0.5v-7.8zM790 241.8v9.6h0.5v-9.6zM790.5 242.4v7.8h0.5v-7.8zM791 242.6v8.7h0.5v-8.7zM791.5 242.3v7.8h0.5v-7.8zM792 242.1v8.4h0.5v-8.4zM792.5 241.9v8.5h0.5v-8.5zM793 242.0v8.9h0.5v-8.9zM793.5 242.3v9.1h0.5v-9.1zM794 241.9v8.5h0.5v-8.5zM794.5 242.1v8.0h0.5v-8.0zM795 243.2v7.6h0.5v-7.6zM795.5 242.9v7.2h0.5v-7.2zM796 242.4v8.1h0.5v-8.1zM796.5 241.9v8.4h0.5v-8.4zM797 241.7v8.2h0.5v-8.2zM797.5 242.9v7.1h0.5v-7.1zM798 243.5v7.7h0.5v-7.7zM798.5 243.2v7.7h0.5v-7.7zM799 242.3v8.2h0.5v-8.2zM799.5 243.1v7.1h0.5v-7.1zM800 241.4v9.2h0.5v-9.2zM800.5 241.1v9.3h0.5v-9.3zM801 241.9v8.3h0.5v-8.3zM801.5 242.0v8.2h0.5v-8.2zM802 243.3v8.8h0.5v-8.8zM802.5 242.1v8.4h0.5v-8.4zM803 242.3v8.3h0.5v-8.3zM803.5 242.4v7.7h0.5v-7.7zM804 242.2v7.9h0.5v-7.9zM804.5 242.6v8.8h0.5v-8.8zM805 243.3v7.0h0.5v-7.0zM805.5 242.4v8.5h0.5v-8.5zM806 242.8v8.0h0.5v-8.0zM806.5 243.1v7.1h0.5v-7.1zM807 242.6v8.6h0.5v-8.6zM807.5 243.5v7.3h0.5v-7.3zM808 242.1v9.2h0.5v-9.2zM808.5 241.6v8.5h0.5v-8.5zM809 242.0v9.3h0.5v-9.3zM809.5 243.1v8.2h0.5v-8.2zM810 242.8v7.9h0.5v-7.9zM810.5 242.3v8.3h0.5v-8.3zM811 243.0v6.9h0.5v-6.9zM811.5 243.2v7.0h0.5v-7.0zM812 241.5v8.9h0.5v-8.9zM812.5 242.4v7.4h0.5v-7.4zM813 242.7v9.5h0.5v-9.5zM813.5 242.8v7.5h0.5v-7.5zM814 241.8v8.7h0.5v-8.7zM814.5 242.8v7.4h0.5v-7.4zM815 242.2v8.7h0.5v-8.7zM815.5 243.4v7.3h0.5v-7.3zM816 243.5v7.0h0.5v-7.0zM816.5 243.5v8.0h0.5v-8.0zM817 242.2v8.1h0.5v-8.1zM817.5 241.8v9.6h0.5v-9.6zM818 243.5v7.0h0.5v-7.0zM818.5 242.5v8.5h0.5v-8.5zM819 242.2v8.5h0.5v-8.5zM819.5 243.0v7.7h0.5v-7.7zM820 243.4v7.6h0.5v-7.6zM820.5 240.6v9.4h0.5v-9.4zM821 243.2v8.2h0.5v-8.2zM821.5 243.5v7.9h0.5v-7.9zM822 243.3v7.7h0.5v-7.7zM822.5 242.1v8.4h0.5v-8.4zM823 243.5v7.3h0.5v-7.3zM823.5 241.7v8.6h0.5v-8.6zM824 242.1v7.9h0.5v-7.9zM824.5 243.3v7.5h0.5v-7.5zM825 241.7v8.6h0.5v-8.6zM825.5 242.4v7.7h0.5v-7.7zM826 243.2v7.6h0.5v-7.6zM826.5 241.8v8.1h0.5v-8.1zM827 242.4v7.7h0.5v-7.7zM827.5 242.0v9.2h0.5v-9.2zM828 240.5v10.7h0.5v-10.7zM828.5 242.5v8.5h0.5v-8.5zM829 243.5v7.9h0.5v-7.9zM829.5 241.2v9.8h0.5v-9.8zM830 243.2v7.5h0.5v-7.5zM830.5 243.0v7.6h0.5v-7.6zM831 243.2v7.4h0.5v-7.4zM831.5 242.1v10.2h0.5v-10.2zM832 242.3v9.1h0.5v-9.1zM832.5 242.8v8.4h0.5v-8.4zM833 241.7v9.2h0.5v-9.2zM833.5 242.4v9.1h0.5v-9.1zM834 242.6v9.5h0.5v-9.5zM834.5 241.9v9.5h0.5v-9.5zM835 243.2v6.8h0.5v-6.8zM835.5 242.9v8.5h0.5v-8.5zM836 242.0v8.1h0.5v-8.1zM836.5 241.8v10.7h0.5v-10.7zM837 240.4v10.1h0.5v-10.1zM837.5 242.6v7.3h0.5v-7.3zM838 241.5v8.9h0.5v-8.9zM838.5 242.2v8.1h0.5v-8.1zM839 242.0v7.9h0.5v-7.9zM839.5 241.7v9.6h0.5v-9.6zM840 242.7v8.0h0.5v-8.0zM840.5 242.5v8.7h0.5v-8.7zM841 241.6v11.0h0.5v-11.0zM841.5 241.2v10.2h0.5v-10.2zM842 240.6v10.3h0.5v-10.3zM842.5 243.0v8.2h0.5v-8.2zM843 242.2v10.1h0.5v-10.1zM843.5 241.8v8.9h0.5v-8.9zM844 241.9v8.0h0.5v-8.0zM844.5 242.2v9.2h0.5v-9.2zM845 241.8v9.5h0.5v-9.5zM845.5 242.4v9.1h0.5v-9.1zM846 242.9v7.5h0.5v-7.5zM846.5 243.4v7.9h0.5v-7.9zM847 242.9v7.2h0.5v-7.2zM847.5 243.3v6.6h0.5v-6.6zM848 242.0v10.8h0.5v-10.8zM848.5 242.0v8.2h0.5v-8.2zM849 242.2v8.3h0.5v-8.3zM849.5 242.2v9.1h0.5v-9.1zM850 242.2v8.2h0.5v-8.2zM850.5 242.2v9.9h0.5v-9.9zM851 242.3v8.2h0.5v-8.2zM851.5 242.9v7.5h0.5v-7.5zM852 242.5v7.6h0.5v-7.6zM852.5 241.9v10.0h0.5v-10.0zM853 241.7v9.4h0.5v-9.4zM853.5 243.3v6.9h0.5v-6.9zM854 242.6v7.4h0.5v-7.4zM854.5 243.2v7.9h0.5v-7.9zM855 242.0v8.2h0.5v-8.2zM855.5 243.3v6.9h0.5v-6.9zM856 242.4v8.8h0.5v-8.8zM856.5 242.3v8.8h0.5v-8.8zM857 243.5v6.5h0.5v-6.5zM857.5 242.6v8.8h0.5v-8.8zM858 242.4v8.9h0.5v-8.9zM858.5 241.8v8.8h0.5v-8.8zM859 243.4v7.3h0.5v-7.3zM859.5 241.9v8.4h0.5v-8.4zM860 242.8v8.3h0.5v-8.3zM860.5 241.9v8.9h0.5v-8.9zM861 243.0v6.8h0.5v-6.8zM861.5 242.2v7.7h0.5v-7.7zM862 243.3v8.0h0.5v-8.0zM862.5 242.7v8.4h0.5v-8.4zM863 240.3v11.7h0.5v-11.7zM863.5 240.9v11.1h0.5v-11.1zM864 243.0v7.1h0.5v-7.1zM864.5 241.8v9.5h0.5v-9.5zM865 242.6v8.6h0.5v-8.6zM865.5 243.0v8.4h0.5v-8.4zM866 242.0v8.7h0.5v-8.7zM866.5 241.8v8.3h0.5v-8.3zM867 243.1v8.1h0.5v-8.1zM867.5 242.6v7.5h0.5v-7.5zM868 242.6v8.3h0.5v-8.3zM868.5 242.7v10.1h0.5v-10.1zM869 242.2v9.1h0.5v-9.1zM869.5 241.8v10.0h0.5v-10.0zM870 242.9v8.4h0.5v-8.4zM870.5 243.1v7.0h0.5v-7.0zM871 242.1v8.9h0.5v-8.9zM871.5 243.3v7.2h0.5v-7.2zM872 242.1v8.6h0.5v-8.6zM872.5 242.9v8.1h0.5v-8.1zM873 242.9v7.5h0.5v-7.5zM873.5 242.8v8.2h0.5v-8.2zM874 243.1v7.1h0.5v-7.1zM874.5 242.4v8.3h0.5v-8.3zM875 241.7v9.1h0.5v-9.1zM875.5 242.3v8.7h0.5v-8.7zM876 242.9v8.5h0.5v-8.5zM876.5 242.2v9.1h0.5v-9.1zM877 241.9v9.4h0.5v-9.4zM877.5 241.7v9.2h0.5v-9.2zM878 242.8v7.3h0.5v-7.3zM878.5 243.2v7.4h0.5v-7.4zM879 243.0v9.2h0.5v-9.2zM879.5 242.0v8.8h0.5v-8.8zM880 242.0v7.9h0.5v-7.9zM880.5 242.9v8.0h0.5v-8.0zM881 242.0v7.9h0.5v-7.9zM881.5 243.3v7.3h0.5v-7.3zM882 243.0v8.4h0.5v-8.4zM882.5 242.2v8.2h0.5v-8.2zM883 242.2v9.0h0.5v-9.0zM883.5 243.1v8.3h0.5v-8.3zM884 242.2v7.8h0.5v-7.8zM884.5 241.4v9.2h0.5v-9.2zM885 242.4v8.1h0.5v-8.1zM885.5 242.8v8.4h0.5v-8.4zM886 243.4v7.0h0.5v-7.0zM886.5 242.9v7.4h0.5v-7.4zM887 242.9v7.8h0.5v-7.8zM887.5 243.1v7.7h0.5v-7.7zM888 243.1v7.9h0.5v-7.9zM888.5 243.0v7.4h0.5v-7.4zM889 242.9v8.5h0.5v-8.5zM889.5 242.9v8.5h0.5v-8.5zM890 241.9v9.2h0.5v-9.2zM890.5 242.2v10.2h0.5v-10.2zM891 241.8v9.7h0.5v-9.7zM891.5 242.4v8.7h0.5v-8.7zM892 241.6v8.6h0.5v-8.6zM892.5 243.1v7.7h0.5v-7.7zM893 241.7v9.6h0.5v-9.6zM893.5 243.2v7.4h0.5v-7.4zM894 242.3v8.8h0.5v-8.8zM894.5 242.9v8.2h0.5v-8.2zM895 242.4v10.2h0.5v-10.2zM895.5 241.8v8.7h0.5v-8.7zM896 242.0v8.0h0.5v-8.0zM896.5 242.3v7.7h0.5v-7.7zM897 242.0v10.4h0.5v-10.4zM897.5 243.2v7.7h0.5v-7.7zM898 242.7v7.2h0.5v-7.2zM898.5 243.1v8.1h0.5v-8.1zM899 241.7v8.7h0.5v-8.7zM899.5 242.2v7.7h0.5v-7.7zM900 241.7v8.5h0.5v-8.5zM900.5 242.0v9.9h0.5v-9.9zM901 243.5v7.3h0.5v-7.3zM901.5 243.1v7.3h0.5v-7.3zM902 241.9v8.8h0.5v-8.8zM902.5 242.3v9.9h0.5v-9.9zM903 242.0v8.5h0.5v-8.5zM903.5 242.1v8.4h0.5v-8.4zM904 242.1v9.6h0.5v-9.6zM904.5 243.2v8.0h0.5v-8.0zM905 242.6v7.5h0.5v-7.5zM905.5 243.4v8.1h0.5v-8.1zM906 243.3v6.6h0.5v-6.6zM906.5 242.2v8.5h0.5v-8.5zM907 243.0v8.2h0.5v-8.2zM907.5 243.5v8.0h0.5v-8.0zM908 242.8v7.4h0.5v-7.4zM908.5 242.5v7.5h0.5v-7.5zM909 241.9v9.0h0.5v-9.0zM909.5 243.0v9.3h0.5v-9.3zM910 242.3v9.2h0.5v-9.2zM910.5 242.9v7.5h0.5v-7.5zM911 243.1v6.8h0.5v-6.8zM911.5 241.6v9.2h0.5v-9.2zM912 242.0v8.3h0.5v-8.3zM912.5 241.9v8.7h0.5v-8.7zM913 242.0v9.1h0.5v-9.1zM913.5 241.9v8.1h0.5v-8.1zM914 241.1v10.2h0.5v-10.2zM914.5 242.8v8.1h0.5v-8.1zM915 243.3v8.5h0.5v-8.5zM915.5 243.4v7.0h0.5v-7.0zM916 241.8v8.5h0.5v-8.5zM916.5 242.8v8.3h0.5v-8.3zM917 242.3v8.3h0.5v-8.3zM917.5 242.3v8.6h0.5v-8.6zM918 242.1v10.3h0.5v-10.3zM918.5 242.0v8.4h0.5v-8.4zM919 241.8v8.3h0.5v-8.3zM919.5 243.5v7.8h0.5v-7.8zM920 242.5v7.5h0.5v-7.5zM920.5 242.4v8.2h0.5v-8.2zM921 242.0v9.6h0.5v-9.6zM921.5 242.8v7.6h0.5v-7.6zM922 242.2v8.9h0.5v-8.9zM922.5 241.7v8.7h0.5v-8.7zM923 243.2v6.9h0.5v-6.9zM923.5 243.1v6.8h0.5v-6.8zM924 242.5v8.4h0.5v-8.4zM924.5 242.6v8.6h0.5v-8.6zM925 241.0v10.8h0.5v-10.8zM925.5 241.8v9.2h0.5v-9.2zM926 241.5v9.4h0.5v-9.4zM926.5 241.9v9.4h0.5v-9.4zM927 241.7v9.0h0.5v-9.0zM927.5 242.9v8.0h0.5v-8.0z"/>
<path fill="#D95319" d="M60 242.7v6.5h0.5v-6.5zM60.5 242.8v6.4h0.5v-6.4zM61 242.3v6.5h0.5v-6.5zM61.5 242.6v6.4h0.5v-6.4zM62 242.5v7.2h0.5v-7.2zM62.5 243.6v5.5h0.5v-5.5zM63 242.3v7.1h0.5v-7.1zM63.5 243.0v6.6h0.5v-6.6zM64 243.0v5.9h0.5v-5.9zM64.5 242.7v6.4h0.5v-6.4zM65 242.3v7.3h0.5v-7.3zM65.5 243.1v5.9h0.5v-5.9zM66 242.8v5.7h0.5v-5.7zM66.5 242.5v6.5h0.5v-6.5zM67 243.5v6.2h0.5v-6.2zM67.5 242.5v5.9h0.5v-5.9zM68 242.8v6.6h0.5v-6.6zM68.5 242.9v5.7h0.5v-5.7zM69 242.9v6.3h0.5v-6.3zM69.5 243.4v6.1h0.5v-6.1zM70 242.6v7.1h0.5v-7.1zM70.5 242.5v7.2h0.5v-7.2zM71 243.6v5.2h0.5v-5.2zM71.5 242.7v6.8h0.5v-6.8zM72 242.2v7.1h0.5v-7.1zM72.5 242.9v6.5h0.5v-6.5zM73 242.4v6.0h0.5v-6.0zM73.5 242.6v6.0h0.5v-6.0zM74 243.7v5.0h0.5v-5.0zM74.5 242.4v6.7h0.5v-6.7zM75 243.0v6.4h0.5v-6.4zM75.5 243.4v5.4h0.5v-5.4zM76 243.0v5.8h0.5v-5.8zM76.5 243.3v5.8h0.5v-5.8zM77 243.6v5.2h0.5v-5.2zM77.5 243.4v5.1h0.5v-5.1zM78 243.2v5.4h0.5v-5.4zM78.5 242.8v5.9h0.5v-5.9zM79 243.3v5.0h0.5v-5.0zM79.5 242.2v7.1h0.5v-7.1zM80 243.3v5.2h0.5v-5.2zM80.5 242.5v5.9h0.5v-5.9zM81 242.6v6.0h0.5v-6.0zM81.5 242.3v6.8h0.5v-6.8zM82 243.5v6.0h0.5v-6.0zM82.5 243.3v6.5h0.5v-6.5zM83 242.7v6.1h0.5v-6.1zM83.5 243.4v5.0h0.5v-5.0zM84 243.4v5.2h0.5v-5.2zM84.5 243.6v5.8h0.5v-5.8zM85 243.0v5.3h0.5v-5.3zM85.5 243.4v6.0h0.5v-6.0zM86 242.3v7.2h0.5v-7.2zM86.5 243.3v5.7h0.5v-5.7zM87 243.5v6.0h0.5v-6.0zM87.5 243.2v5.6h0.5v-5.6zM88 243.4v5.5h0.5v-5.5zM88.5 242.6v6.5h0.5v-6.5zM89 242.3v6.8h0.5v-6.8zM89.5 243.5v5.6h0.5v-5.6zM90 242.4v6.0h0.5v-6.0zM90.5 243.2v6.4h0.5v-6.4zM91 242.8v6.6h0.5v-6.6zM91.5 243.3v6.2h0.5v-6.2zM92 242.6v6.1h0.5v-6.1zM92.5 242.8v6.9h0.5v-6.9zM93 243.4v6.3h0.5v-6.3zM93.5 243.0v6.1h0.5v-6.1zM94 242.5v6.4h0.5v-6.4zM94.5 243.4v6.2h0.5v-6.2zM95 242.3v6.5h0.5v-6.5zM95.5 243.2v5.2h0.5v-5.2zM96 243.2v6.4h0.5v-6.4zM96.5 243.1v5.3h0.5v-5.3zM97 243.5v5.4h0.5v-5.4zM97.5 242.5v6.4h0.5v-6.4zM98 242.6v6.3h0.5v-6.3zM98.5 243.4v5.3h0.5v-5.3zM99 243.6v5.4h0.5v-5.4zM99.5 243.3v5.1h0.5v-5.1zM100 242.7v6.9h0.5v-6.9zM100.5 242.4v6.5h0.5v-6.5zM101 242.3v7.4h0.5v-7.4zM101.5 243.2v6.2h0.5v-6.2zM102 242.7v5.7h0.5v-5.7zM102.5 242.7v6.2h0.5v-6.2zM103 243.2v5.2h0.5v-5.2zM103.5 243.0v6.5h0.5v-6.5zM104 242.3v6.7h0.5v-6.7zM104.5 243.4v6.1h0.5v-6.1zM105 243.4v5.7h0.5v-5.7zM105.5 242.5v6.3h0.5v-6.3zM106 243.3v5.6h0.5v-5.6zM106.5 243.5v5.1h0.5v-5.1zM107 242.8v6.3h0.5v-6.3zM107.5 243.4v6.1h0.5v-6.1zM108 242.8v6.8h0.5v-6.8zM108.5 243.4v6.0h0.5v-6.0zM109 243.1v6.2h0.5v-6.2zM109.5 243.3v6.4h0.5v-6.4zM110 242.7v7.2h0.5v-7.2zM110.5 242.2v6.6h0.5v-6.6zM111 242.9v6.1h0.5v-6.1zM111.5 243.3v5.1h0.5v-5.1zM112 242.4v6.8h0.5v-6.8zM112.5 243.2v6.6h0.5v-6.6zM113 242.8v6.8h0.5v-6.8zM113.5 242.6v5.9h0.5v-5.9zM114 242.6v7.2h0.5v-7.2zM114.5 242.5v6.6h0.5v-6.6zM115 242.5v7.1h0.5v-7.1zM115.5 242.4v6.6h0.5v-6.6zM116 243.1v6.1h0.5v-6.1zM116.5 242.7v6.3h0.5v-6.3zM117 242.2v6.4h0.5v-6.4zM117.5 243.6v5.5h0.5v-5.5zM118 243.2v5.8h0.5v-5.8zM118.5 242.6v7.0h0.5v-7.0zM119 243.7v5.4h0.5v-5.4zM119.5 242.2v7.3h0.5v-7.3zM120 243.1v6.5h0.5v-6.5zM120.5 243.4v5.6h0.5v-5.6zM121 242.3v7.0h0.5v-7.0zM121.5 242.2v6.7h0.5v-6.7zM122 242.7v5.8h0.5v-5.8zM122.5 243.6v6.0h0.5v-6.0zM123 243.5v5.2h0.5v-5.2zM123.5 243.3v6.1h0.5v-6.1zM124 242.3v6.7h0.5v-6.7zM124.5 243.0v6.6h0.5v-6.6zM125 242.7v5.7h0.5v-5.7zM125.5 243.6v4.8h0.5v-4.8zM126 243.6v5.3h0.5v-5.3zM126.5 243.5v5.0h0.5v-5.0zM127 243.5v5.4h0.5v-5.4zM127.5 242.4v6.7h0.5v-6.7zM128 242.2v6.6h0.5v-6.6zM128.5 243.7v5.2h0.5v-5.2zM129 242.6v6.1h0.5v-6.1zM129.5 243.4v6.3h0.5v-6.3zM130 242.3v7.2h0.5v-7.2zM130.5 242.7v6.6h0.5v-6.6zM131 243.2v5.2h0.5v-5.2zM131.5 243.5v5.7h0.5v-5.7zM132 242.9v6.9h0.5v-6.9zM132.5 242.9v6.4h0.5v-6.4zM133 243.4v6.4h0.5v-6.4zM133.5 242.5v6.2h0.5v-6.2zM134 243.4v6.1h0.5v-6.1zM134.5 243.0v5.5h0.5v-5.5zM135 242.4v7.0h0.5v-7.0zM135.5 243.1v6.1h0.5v-6.1zM136 243.3v6.4h0.5v-6.4zM136.5 243.1v6.4h0.5v-6.4zM137 243.1v5.9h0.5v-5.9zM137.5 242.8v6.1h0.5v-6.1zM138 242.5v7.3h0.5v-7.3zM138.5 242.2v6.2h0.5v-6.2zM139 243.1v6.3h0.5v-6.3zM139.5 243.4v5.1h0.5v-5.1zM140 242.5v6.7h0.5v-6.7zM140.5 242.2v6.2h0.5v-6.2zM141 242.8v6.1h0.5v-6.1zM141.5 242.6v6.4h0.5v-6.4zM142 242.4v6.1h0.5v-6.1zM142.5 242.3v6.9h0.5v-6.9zM143 242.7v6.3h0.5v-6.3zM143.5 243.2v6.1h0.5v-6.1zM144 243.1v6.5h0.5v-6.5zM144.5 242.2v6.2h0.5v-6.2zM145 242.2v6.2h0.5v-6.2zM145.5 243.3v5.7h0.5v-5.7zM146 243.6v5.6h0.5v-5.6zM146.5 243.1v5.6h0.5v-5.6zM147 242.5v5.9h0.5v-5.9zM147.5 243.6v4.9h0.5v-4.9zM148 243.2v5.8h0.5v-5.8zM148.5 242.8v6.3h0.5v-6.3zM149 243.6v4.8h0.5v-4.8zM149.5 242.4v6.7h0.5v-6.7zM150 242.4v7.1h0.5v-7.1zM150.5 242.7v6.5h0.5v-6.5zM151 243.2v6.4h0.5v-6.4zM151.5 243.3v5.4h0.5v-5.4zM152 243.6v5.3h0.5v-5.3zM152.5 243.2v6.5h0.5v-6.5zM153 242.9v6.4h0.5v-6.4zM153.5 243.4v5.7h0.5v-5.7zM154 242.5v6.1h0.5v-6.1zM154.5 243.0v5.4h0.5v-5.4zM155 243.2v6.4h0.5v-6.4zM155.5 242.3v7.0h0.5v-7.0zM156 242.8v5.9h0.5v-5.9zM156.5 243.3v5.6h0.5v-5.6zM157 243.4v6.4h0.5v-6.4zM157.5 243.5v5.4h0.5v-5.4zM158 243.3v6.4h0.5v-6.4zM158.5 242.7v6.3h0.5v-6.3zM159 243.6v5.5h0.5v-5.5zM159.5 242.9v5.9h0.5v-5.9zM160 242.7v6.8h0.5v-6.8zM160.5 242.9v5.5h0.5v-5.5zM161 243.1v6.3h0.5v-6.3zM161.5 243.2v6.0h0.5v-6.0zM162 243.1v5.5h0.5v-5.5zM162.5 243.4v5.8h0.5v-5.8zM163 243.6v5.8h0.5v-5.8zM163.5 242.3v7.6h0.5v-7.6zM164 243.5v5.8h0.5v-5.8zM164.5 243.4v5.8h0.5v-5.8zM165 243.5v5.4h0.5v-5.4zM165.5 243.6v5.3h0.5v-5.3zM166 242.2v6.3h0.5v-6.3zM166.5 242.2v6.2h0.5v-6.2zM167 243.3v6.1h0.5v-6.1zM167.5 243.2v6.2h0.5v-6.2zM168 242.7v6.9h0.5v-6.9zM168.5 243.0v6.7h0.5v-6.7zM169 242.9v6.3h0.5v-6.3zM169.5 242.2v7.4h0.5v-7.4zM170 243.4v6.4h0.5v-6.4zM170.5 242.4v7.2h0.5v-7.2zM171 243.1v5.6h0.5v-5.6zM171.5 243.0v6.6h0.5v-6.6zM172 242.5v7.2h0.5v-7.2zM172.5 243.6v6.2h0.5v-6.2zM173 243.5v6.3h0.5v-6.3zM173.5 243.0v5.7h0.5v-5.7zM174 243.3v6.1h0.5v-6.1zM174.5 242.8v5.8h0.5v-5.8zM175 243.3v5.5h0.5v-5.5zM175.5 242.7v7.2h0.5v-7.2zM176 243.3v6.3h0.5v-6.3zM176.5 242.8v6.5h0.5v-6.5zM177 243.2v6.2h0.5v-6.2zM177.5 242.8v6.8h0.5v-6.8zM178 242.3v7.5h0.5v-7.5zM178.5 242.6v5.8h0.5v-5.8zM179 242.7v5.7h0.5v-5.7zM179.5 242.9v6.9h0.5v-6.9zM180 242.6v6.1h0.5v-6.1zM180.5 243.2v5.9h0.5v-5.9zM181 243.6v5.8h0.5v-5.8zM181.5 242.5v7.3h0.5v-7.3zM182 242.7v6.3h0.5v-6.3zM182.5 243.5v5.3h0.5v-5.3zM183 243.0v6.8h0.5v-6.8zM183.5 242.6v6.2h0.5v-6.2zM184 243.1v6.5h0.5v-6.5zM184.5 243.5v5.2h0.5v-5.2zM185 242.5v6.2h0.5v-6.2zM185.5 243.3v5.6h0.5v-5.6zM186 243.5v4.9h0.5v-4.9zM186.5 243.4v5.1h0.5v-5.1zM187 242.7v5.9h0.5v-5.9zM187.5 242.5v6.8h0.5v-6.8zM188 243.2v6.3h0.5v-6.3zM188.5 242.3v6.8h0.5v-6.8zM189 243.3v5.9h0.5v-5.9zM189.5 242.4v7.4h0.5v-7.4zM190 242.3v6.3h0.5v-6.3zM190.5 243.6v4.7h0.5v-4.7zM191 243.1v6.3h0.5v-6.3zM191.5 243.1v5.6h0.5v-5.6zM192 243.2v5.8h0.5v-5.8zM192.5 243.6v5.3h0.5v-5.3zM193 243.4v5.1h0.5v-5.1zM193.5 242.5v7.2h0.5v-7.2zM194 243.4v5.5h0.5v-5.5zM194.5 242.2v7.4h0.5v-7.4zM195 243.1v6.5h0.5v-6.5zM195.5 243.3v5.1h0.5v-5.1zM196 242.9v6.1h0.5v-6.1zM196.5 243.1v6.5h0.5v-6.5zM197 243.1v6.4h0.5v-6.4zM197.5 243.6v5.8h0.5v-5.8zM198 243.6v6.0h0.5v-6.0zM198.5 242.8v6.3h0.5v-6.3zM199 242.7v6.8h0.5v-6.8zM199.5 243.0v5.5h0.5v-5.5zM200 242.6v5.7h0.5v-5.7zM200.5 243.0v5.5h0.5v-5.5zM201 243.4v6.3h0.5v-6.3zM201.5 243.1v5.7h0.5v-5.7zM202 242.8v6.5h0.5v-6.5zM202.5 242.7v7.1h0.5v-7.1zM203 243.0v6.5h0.5v-6.5zM203.5 243.3v5.1h0.5v-5.1zM204 243.1v6.1h0.5v-6.1zM204.5 242.4v6.0h0.5v-6.0zM205 242.9v6.4h0.5v-6.4zM205.5 243.2v6.4h0.5v-6.4zM206 242.6v5.8h0.5v-5.8zM206.5 243.6v5.1h0.5v-5.1zM207 242.6v5.7h0.5v-5.7zM207.5 242.8v5.9h0.5v-5.9zM208 243.7v5.4h0.5v-5.4zM208.5 243.0v5.5h0.5v-5.5zM209 243.0v5.7h0.5v-5.7zM209.5 243.4v5.0h0.5v-5.0zM210 242.6v5.9h0.5v-5.9zM210.5 243.5v5.7h0.5v-5.7zM211 242.8v5.8h0.5v-5.8zM211.5 243.3v6.3h0.5v-6.3zM212 242.7v6.0h0.5v-6.0zM212.5 243.4v5.4h0.5v-5.4zM213 243.4v4.9h0.5v-4.9zM213.5 242.3v7.4h0.5v-7.4zM214 243.1v6.1h0.5v-6.1zM214.5 242.4v6.7h0.5v-6.7zM215 243.5v4.9h0.5v-4.9zM215.5 243.3v6.5h0.5v-6.5zM216 243.2v5.3h0.5v-5.3zM216.5 243.2v6.6h0.5v-6.6zM217 243.3v6.4h0.5v-6.4zM217.5 243.5v6.3h0.5v-6.3zM218 243.3v6.2h0.5v-6.2zM218.5 243.6v5.8h0.5v-5.8zM219 242.2v6.7h0.5v-6.7zM219.5 243.6v6.1h0.5v-6.1zM220 243.0v6.1h0.5v-6.1zM220.5 242.9v5.6h0.5v-5.6zM221 243.3v6.0h0.5v-6.0zM221.5 242.9v6.6h0.5v-6.6zM222 243.3v6.4h0.5v-6.4zM222.5 243.3v5.5h0.5v-5.5zM223 242.7v6.0h0.5v-6.0zM223.5 243.1v6.5h0.5v-6.5zM224 242.2v7.5h0.5v-7.5zM224.5 243.5v6.2h0.5v-6.2zM225 242.9v6.2h0.5v-6.2zM225.5 243.6v6.0h0.5v-6.0zM226 242.2v6.9h0.5v-6.9zM226.5 242.5v5.9h0.5v-5.9zM227 242.7v6.2h0.5v-6.2zM227.5 243.1v6.1h0.5v-6.1zM228 243.5v5.4h0.5v-5.4zM228.5 243.1v6.7h0.5v-6.7zM229 243.1v6.1h0.5v-6.1zM229.5 243.5v6.0h0.5v-6.0zM230 243.1v5.7h0.5v-5.7zM230.5 242.9v6.6h0.5v-6.6zM231 242.6v7.2h0.5v-7.2zM231.5 243.2v5.4h0.5v-5.4zM232 242.4v6.8h0.5v-6.8zM232.5 243.3v5.1h0.5v-5.1zM233 242.8v5.6h0.5v-5.6zM233.5 242.7v6.9h0.5v-6.9zM234 243.2v6.6h0.5v-6.6zM234.5 243.1v6.6h0.5v-6.6zM235 243.6v5.6h0.5v-5.6zM235.5 242.6v6.8h0.5v-6.8zM236 242.2v6.6h0.5v-6.6zM236.5 242.3v7.1h0.5v-7.1zM237 242.2v7.5h0.5v-7.5zM237.5 242.5v6.3h0.5v-6.3zM238 242.4v7.0h0.5v-7.0zM238.5 243.2v6.2h0.5v-6.2zM239 242.6v7.0h0.5v-7.0zM239.5 242.4v7.1h0.5v-7.1zM240 242.9v6.0h0.5v-6.0zM240.5 242.8v6.5h0.5v-6.5zM241 242.3v6.1h0.5v-6.1zM241.5 242.6v6.9h0.5v-6.9zM242 242.8v5.9h0.5v-5.9zM242.5 242.9v5.7h0.5v-5.7zM243 243.2v6.0h0.5v-6.0zM243.5 243.6v5.8h0.5v-5.8zM244 242.7v7.0h0.5v-7.0zM244.5 243.3v6.1h0.5v-6.1zM245 242.2v7.5h0.5v-7.5zM245.5 243.4v5.8h0.5v-5.8zM246 243.1v6.4h0.5v-6.4zM246.5 242.4v7.2h0.5v-7.2zM247 242.9v6.0h0.5v-6.0zM247.5 243.6v5.1h0.5v-5.1zM248 243.4v5.3h0.5v-5.3zM248.5 243.1v6.0h0.5v-6.0zM249 243.0v6.6h0.5v-6.6zM249.5 243.6v5.2h0.5v-5.2zM250 242.4v7.2h0.5v-7.2zM250.5 242.2v6.5h0.5v-6.5zM251 243.1v6.5h0.5v-6.5zM251.5 243.4v5.3h0.5v-5.3zM252 242.8v5.7h0.5v-5.7zM252.5 243.5v5.4h0.5v-5.4zM253 242.4v7.1h0.5v-7.1zM253.5 242.4v6.2h0.5v-6.2zM254 242.2v6.2h0.5v-6.2zM254.5 243.2v5.9h0.5v-5.9zM255 243.5v5.6h0.5v-5.6zM255.5 243.0v5.9h0.5v-5.9zM256 243.1v6.4h0.5v-6.4zM256.5 243.4v6.2h0.5v-6.2zM257 243.6v6.0h0.5v-6.0zM257.5 242.2v6.7h0.5v-6.7zM258 243.0v6.0h0.5v-6.0zM258.5 242.8v6.5h0.5v-6.5zM259 243.6v4.8h0.5v-4.8zM259.5 243.5v5.9h0.5v-5.9zM260 243.1v6.7h0.5v-6.7zM260.5 243.5v5.4h0.5v-5.4zM261 243.2v5.2h0.5v-5.2zM261.5 243.5v5.9h0.5v-5.9zM262 242.5v6.7h0.5v-6.7zM262.5 242.2v7.6h0.5v-7.6zM263 242.6v6.9h0.5v-6.9zM263.5 243.1v5.7h0.5v-5.7zM264 243.6v5.8h0.5v-5.8zM264.5 243.1v6.0h0.5v-6.0zM265 243.6v5.8h0.5v-5.8zM265.5 243.0v6.1h0.5v-6.1zM266 243.2v5.5h0.5v-5.5zM266.5 242.5v6.0h0.5v-6.0zM267 242.9v5.9h0.5v-5.9zM267.5 243.4v5.4h0.5v-5.4zM268 242.8v6.9h0.5v-6.9zM268.5 242.4v7.2h0.5v-7.2zM269 242.3v7.0h0.5v-7.0zM269.5 243.1v6.1h0.5v-6.1zM270 243.1v5.5h0.5v-5.5zM270.5 242.5v7.3h0.5v-7.3zM271 243.2v6.1h0.5v-6.1zM271.5 243.5v6.2h0.5v-6.2zM272 243.5v6.1h0.5v-6.1zM272.5 243.5v5.8h0.5v-5.8zM273 242.4v6.7h0.5v-6.7zM273.5 242.8v6.3h0.5v-6.3zM274 242.4v7.2h0.5v-7.2zM274.5 243.0v5.3h0.5v-5.3zM275 242.7v6.3h0.5v-6.3zM275.5 243.4v5.9h0.5v-5.9zM276 242.5v6.3h0.5v-6.3zM276.5 243.1v5.6h0.5v-5.6zM277 243.6v5.8h0.5v-5.8zM277.5 242.5v6.4h0.5v-6.4zM278 243.4v5.4h0.5v-5.4zM278.5 243.2v6.1h0.5v-6.1zM279 242.6v6.2h0.5v-6.2zM279.5 243.2v6.3h0.5v-6.3zM280 242.7v6.1h0.5v-6.1zM280.5 242.6v6.2h0.5v-6.2zM281 243.6v4.9h0.5v-4.9zM281.5 242.6v7.2h0.5v-7.2zM282 242.8v6.7h0.5v-6.7zM282.5 243.5v5.7h0.5v-5.7zM283 243.5v6.1h0.5v-6.1zM283.5 243.0v6.0h0.5v-6.0zM284 242.2v7.0h0.5v-7.0zM284.5 242.7v6.0h0.5v-6.0zM285 242.7v6.4h0.5v-6.4zM285.5 242.5v6.8h0.5v-6.8zM286 243.2v6.5h0.5v-6.5zM286.5 242.7v6.6h0.5v-6.6zM287 243.3v6.5h0.5v-6.5zM287.5 242.2v6.4h0.5v-6.4zM288 242.6v6.9h0.5v-6.9zM288.5 243.6v5.4h0.5v-5.4zM289 242.5v6.4h0.5v-6.4zM289.5 242.8v6.7h0.5v-6.7zM290 242.5v7.2h0.5v-7.2zM290.5 243.0v6.2h0.5v-6.2zM291 242.8v6.4h0.5v-6.4zM291.5 242.2v6.4h0.5v-6.4zM292 243.1v5.5h0.5v-5.5zM292.5 243.1v6.5h0.5v-6.5zM293 243.6v5.2h0.5v-5.2zM293.5 242.4v6.7h0.5v-6.7zM294 242.6v6.8h0.5v-6.8zM294.5 242.7v6.9h0.5v-6.9zM295 243.5v6.0h0.5v-6.0zM295.5 243.6v5.7h0.5v-5.7zM296 243.4v5.4h0.5v-5.4zM296.5 243.4v5.7h0.5v-5.7zM297 242.4v7.3h0.5v-7.3zM297.5 242.9v5.9h0.5v-5.9zM298 242.7v6.7h0.5v-6.7zM298.5 242.6v6.8h0.5v-6.8zM299 242.3v7.1h0.5v-7.1zM299.5 243.3v5.4h0.5v-5.4zM300 243.4v5.8h0.5v-5.8zM300.5 242.4v7.3h0.5v-7.3zM301 243.2v6.4h0.5v-6.4zM301.5 243.6v5.0h0.5v-5.0zM302 243.1v6.3h0.5v-6.3zM302.5 243.1v6.6h0.5v-6.6zM303 242.9v6.4h0.5v-6.4zM303.5 242.9v6.7h0.5v-6.7zM304 242.2v6.2h0.5v-6.2zM304.5 242.2v6.7h0.5v-6.7zM305 243.7v5.3h0.5v-5.3zM305.5 242.2v7.4h0.5v-7.4zM306 242.2v6.3h0.5v-6.3zM306.5 242.4v6.4h0.5v-6.4zM307 242.7v5.9h0.5v-5.9zM307.5 242.2v7.4h0.5v-7.4zM308 243.1v6.0h0.5v-6.0zM308.5 243.4v5.8h0.5v-5.8zM309 242.9v5.7h0.5v-5.7zM309.5 242.2v7.6h0.5v-7.6zM310 242.5v6.1h0.5v-6.1zM310.5 242.8v5.7h0.5v-5.7zM311 243.3v6.0h0.5v-6.0zM311.5 242.2v7.5h0.5v-7.5zM312 242.4v6.8h0.5v-6.8zM312.5 242.6v7.3h0.5v-7.3zM313 242.6v6.3h0.5v-6.3zM313.5 243.6v5.1h0.5v-5.1zM314 242.6v6.1h0.5v-6.1zM314.5 242.9v6.8h0.5v-6.8zM315 243.6v5.3h0.5v-5.3zM315.5 242.4v7.4h0.5v-7.4zM316 242.6v6.0h0.5v-6.0zM316.5 243.0v6.3h0.5v-6.3zM317 243.2v5.9h0.5v-5.9zM317.5 243.0v6.1h0.5v-6.1zM318 243.2v5.2h0.5v-5.2zM318.5 243.3v6.5h0.5v-6.5zM319 243.1v6.0h0.5v-6.0zM319.5 243.5v6.2h0.5v-6.2zM320 243.6v5.6h0.5v-5.6zM320.5 242.4v6.7h0.5v-6.7zM321 243.5v6.0h0.5v-6.0zM321.5 242.4v6.7h0.5v-6.7zM322 243.6v5.0h0.5v-5.0zM322.5 243.2v5.2h0.5v-5.2zM323 243.6v5.9h0.5v-5.9zM323.5 242.8v5.6h0.5v-5.6zM324 243.0v5.4h0.5v-5.4zM324.5 242.4v6.0h0.5v-6.0zM325 243.6v5.3h0.5v-5.3zM325.5 243.5v5.4h0.5v-5.4zM326 242.5v6.9h0.5v-6.9zM326.5 243.3v6.2h0.5v-6.2zM327 242.4v7.0h0.5v-7.0zM327.5 243.7v6.0h0.5v-6.0zM328 243.2v5.8h0.5v-5.8zM328.5 242.9v6.6h0.5v-6.6zM329 242.7v5.9h0.5v-5.9zM329.5 243.6v5.9h0.5v-5.9zM330 243.0v6.1h0.5v-6.1zM330.5 242.3v6.9h0.5v-6.9zM331 242.9v6.5h0.5v-6.5zM331.5 243.6v4.9h0.5v-4.9zM332 243.1v6.5h0.5v-6.5zM332.5 242.7v6.3h0.5v-6.3zM333 243.2v5.4h0.5v-5.4zM333.5 243.1v6.4h0.5v-6.4zM334 242.8v5.9h0.5v-5.9zM334.5 242.4v6.2h0.5v-6.2zM335 242.8v5.7h0.5v-5.7zM335.5 243.0v5.8h0.5v-5.8zM336 242.9v5.8h0.5v-5.8zM336.5 242.4v6.7h0.5v-6.7zM337 242.8v6.0h0.5v-6.0zM337.5 243.2v6.5h0.5v-6.5zM338 243.4v5.5h0.5v-5.5zM338.5 242.3v7.3h0.5v-7.3zM339 243.0v5.6h0.5v-5.6zM339.5 243.1v6.4h0.5v-6.4zM340 243.4v5.4h0.5v-5.4zM340.5 243.4v5.5h0.5v-5.5zM341 242.4v7.4h0.5v-7.4zM341.5 242.2v6.2h0.5v-6.2zM342 242.7v5.9h0.5v-5.9zM342.5 242.2v7.1h0.5v-7.1zM343 243.0v6.1h0.5v-6.1zM343.5 242.5v7.0h0.5v-7.0zM344 242.6v7.0h0.5v-7.0zM344.5 243.4v5.7h0.5v-5.7zM345 243.4v5.9h0.5v-5.9zM345.5 242.8v5.8h0.5v-5.8zM346 243.3v5.2h0.5v-5.2zM346.5 242.8v5.9h0.5v-5.9zM347 243.3v5.3h0.5v-5.3zM347.5 242.2v6.7h0.5v-6.7zM348 243.0v5.9h0.5v-5.9zM348.5 242.4v6.8h0.5v-6.8zM349 242.7v6.9h0.5v-6.9zM349.5 242.2v7.6h0.5v-7.6zM350 242.5v6.4h0.5v-6.4zM350.5 242.9v6.9h0.5v-6.9zM351 242.9v6.1h0.5v-6.1zM351.5 243.0v5.7h0.5v-5.7zM352 243.4v5.4h0.5v-5.4zM352.5 243.5v5.7h0.5v-5.7zM353 243.5v5.6h0.5v-5.6zM353.5 242.9v6.6h0.5v-6.6zM354 242.6v6.7h0.5v-6.7zM354.5 243.2v5.8h0.5v-5.8zM355 242.3v6.5h0.5v-6.5zM355.5 242.6v6.4h0.5v-6.4zM356 242.9v6.1h0.5v-6.1zM356.5 243.2v6.6h0.5v-6.6zM357 193.9v107.0h0.5v-107.0zM357.5 193.9v107.0h0.5v-107.0zM358 194.5v96.1h0.5v-96.1zM358.5 194.7v99.4h0.5v-99.4zM359 173.6v149.0h0.5v-149.0zM359.5 173.6v143.9h0.5v-143.9zM360 195.7v96.0h0.5v-96.0zM360.5 200.7v91.4h0.5v-91.4zM361 187.2v118.5h0.5v-118.5zM361.5 177.8v137.5h0.5v-137.5zM362 148.9v195.9h0.5v-195.9zM362.5 148.9v195.9h0.5v-195.9zM363 174.4v144.5h0.5v-144.5zM363.5 182.5v128.1h0.5v-128.1zM364 177.1v140.2h0.5v-140.2zM364.5 173.8v149.7h0.5v-149.7zM365 183.4v124.2h0.5v-124.2zM365.5 202.5v92.5h0.5v-92.5zM366 209.3v70.6h0.5v-70.6zM366.5 218.6v56.1h0.5v-56.1zM367 215.5v63.2h0.5v-63.2zM367.5 216.4v57.0h0.5v-57.0zM368 220.2v57.0h0.5v-57.0zM368.5 195.6v99.8h0.5v-99.8zM369 198.5v100.6h0.5v-100.6zM369.5 229.7v32.5h0.5v-32.5zM370 232.3v26.3h0.5v-26.3zM370.5 203.6v79.7h0.5v-79.7zM371 190.8v107.5h0.5v-107.5zM371.5 190.1v105.8h0.5v-105.8zM372 188.2v104.9h0.5v-104.9zM372.5 201.5v87.4h0.5v-87.4zM373 187.8v121.0h0.5v-121.0zM373.5 194.7v99.4h0.5v-99.4zM374 216.4v63.7h0.5v-63.7zM374.5 215.9v61.2h0.5v-61.2zM375 212.3v67.9h0.5v-67.9zM375.5 208.1v80.4h0.5v-80.4zM376 180.2v140.8h0.5v-140.8zM376.5 189.8v120.5h0.5v-120.5zM377 183.4v127.1h0.5v-127.1zM377.5 189.1v115.6h0.5v-115.6zM378 151.1v192.9h0.5v-192.9zM378.5 151.1v192.9h0.5v-192.9zM379 176.2v138.6h0.5v-138.6zM379.5 176.4v135.7h0.5v-135.7zM380 171.5v142.0h0.5v-142.0zM380.5 168.8v166.3h0.5v-166.3zM381 161.4v178.5h0.5v-178.5zM381.5 162.7v155.1h0.5v-155.1zM382 181.3v133.7h0.5v-133.7zM382.5 175.6v138.9h0.5v-138.9zM383 144.5v200.3h0.5v-200.3zM383.5 144.5v200.3h0.5v-200.3zM384 142.3v206.6h0.5v-206.6zM384.5 142.3v206.6h0.5v-206.6zM385 185.7v120.2h0.5v-120.2zM385.5 194.6v102.3h0.5v-102.3zM386 198.0v95.6h0.5v-95.6zM386.5 207.7v76.2h0.5v-76.2zM387 191.8v109.1h0.5v-109.1zM387.5 192.4v106.1h0.5v-106.1zM388 179.9v131.6h0.5v-131.6zM388.5 172.8v151.4h0.5v-151.4zM389 137.9v215.1h0.5v-215.1zM389.5 137.9v215.1h0.5v-215.1zM390 137.9v217.9h0.5v-217.9zM390.5 137.9v217.9h0.5v-217.9zM391 133.5v232.7h0.5v-232.7zM391.5 133.5v232.7h0.5v-232.7zM392 123.1v238.2h0.5v-238.2zM392.5 123.1v238.2h0.5v-238.2zM393 137.9v206.9h0.5v-206.9zM393.5 137.9v206.9h0.5v-206.9zM394 181.0v124.4h0.5v-124.4zM394.5 177.9v130.3h0.5v-130.3zM395 185.5v120.3h0.5v-120.3zM395.5 177.8v143.1h0.5v-143.1zM396 179.0v132.5h0.5v-132.5zM396.5 189.2v119.5h0.5v-119.5zM397 174.4v146.9h0.5v-146.9zM397.5 176.1v138.6h0.5v-138.6zM398 216.6v54.4h0.5v-54.4zM398.5 186.7v112.7h0.5v-112.7zM399 186.5v130.8h0.5v-130.8zM399.5 210.4v72.5h0.5v-72.5zM400 195.0v101.0h0.5v-101.0zM400.5 169.9v156.1h0.5v-156.1zM401 170.9v145.7h0.5v-145.7zM401.5 184.9v127.9h0.5v-127.9zM402 184.7v123.7h0.5v-123.7zM402.5 199.3v92.1h0.5v-92.1zM403 204.7v81.9h0.5v-81.9zM403.5 221.9v49.5h0.5v-49.5zM404 221.6v45.0h0.5v-45.0zM404.5 222.9v48.2h0.5v-48.2zM405 162.5v156.2h0.5v-156.2zM405.5 157.1v185.7h0.5v-185.7zM406 173.1v141.2h0.5v-141.2zM406.5 199.1v90.6h0.5v-90.6zM407 188.2v111.7h0.5v-111.7zM407.5 178.7v131.7h0.5v-131.7zM408 148.9v187.7h0.5v-187.7zM408.5 148.9v187.7h0.5v-187.7zM409 92.3v300.7h0.5v-300.7zM409.5 92.3v300.7h0.5v-300.7zM410 102.8v253.0h0.5v-253.0zM410.5 102.8v253.0h0.5v-253.0zM411 160.9v163.2h0.5v-163.2zM411.5 160.9v164.2h0.5v-164.2zM412 156.5v190.6h0.5v-190.6zM412.5 156.5v179.8h0.5v-179.8zM413 178.9v140.1h0.5v-140.1zM413.5 191.6v103.5h0.5v-103.5zM414 154.9v173.4h0.5v-173.4zM414.5 154.9v173.4h0.5v-173.4zM415 182.8v120.3h0.5v-120.3zM415.5 192.6v111.4h0.5v-111.4zM416 183.9v127.0h0.5v-127.0zM416.5 184.4v125.7h0.5v-125.7zM417 205.8v77.5h0.5v-77.5zM417.5 225.7v40.8h0.5v-40.8zM418 201.4v91.0h0.5v-91.0zM418.5 183.7v129.8h0.5v-129.8zM419 183.7v124.0h0.5v-124.0zM419.5 204.8v84.8h0.5v-84.8zM420 181.9v127.8h0.5v-127.8zM420.5 180.1v120.7h0.5v-120.7zM421 201.1v89.4h0.5v-89.4zM421.5 217.6v54.8h0.5v-54.8zM422 212.7v67.2h0.5v-67.2zM422.5 184.2v113.9h0.5v-113.9zM423 166.9v156.1h0.5v-156.1zM423.5 166.9v160.8h0.5v-160.8zM424 156.8v179.7h0.5v-179.7zM424.5 156.8v179.7h0.5v-179.7zM425 140.4v220.0h0.5v-220.0zM425.5 140.4v220.0h0.5v-220.0zM426 160.3v175.2h0.5v-175.2zM426.5 160.8v165.4h0.5v-165.4zM427 193.6v109.2h0.5v-109.2zM427.5 196.3v93.3h0.5v-93.3zM428 184.3v124.0h0.5v-124.0zM428.5 183.0v126.4h0.5v-126.4zM429 203.1v88.5h0.5v-88.5zM429.5 204.5v82.7h0.5v-82.7zM430 191.4v114.8h0.5v-114.8zM430.5 180.9v123.6h0.5v-123.6zM431 180.3v133.1h0.5v-133.1zM431.5 216.3v59.8h0.5v-59.8zM432 203.2v85.0h0.5v-85.0zM432.5 173.0v141.3h0.5v-141.3zM433 172.8v139.6h0.5v-139.6zM433.5 211.4v73.2h0.5v-73.2zM434 210.7v69.9h0.5v-69.9zM434.5 220.5v49.1h0.5v-49.1zM435 220.5v50.0h0.5v-50.0zM435.5 203.7v81.8h0.5v-81.8zM436 199.4v87.4h0.5v-87.4zM436.5 210.1v73.3h0.5v-73.3zM437 232.3v26.9h0.5v-26.9zM437.5 223.5v44.0h0.5v-44.0zM438 188.5v102.0h0.5v-102.0zM438.5 188.8v109.0h0.5v-109.0zM439 205.2v84.4h0.5v-84.4zM439.5 176.0v132.9h0.5v-132.9zM440 176.0v134.8h0.5v-134.8zM440.5 206.5v83.0h0.5v-83.0zM441 217.1v58.7h0.5v-58.7zM441.5 225.8v40.8h0.5v-40.8zM442 207.0v74.1h0.5v-74.1zM442.5 199.4v98.3h0.5v-98.3zM443 204.6v84.8h0.5v-84.8zM443.5 225.4v40.8h0.5v-40.8zM444 205.5v79.1h0.5v-79.1zM444.5 202.5v84.8h0.5v-84.8zM445 172.2v153.9h0.5v-153.9zM445.5 149.0v196.4h0.5v-196.4zM446 149.9v187.4h0.5v-187.4zM446.5 178.3v134.1h0.5v-134.1zM447 194.2v107.2h0.5v-107.2zM447.5 195.0v103.5h0.5v-103.5zM448 191.7v108.7h0.5v-108.7zM448.5 160.9v170.1h0.5v-170.1zM449 136.5v219.0h0.5v-219.0zM449.5 136.5v219.0h0.5v-219.0zM450 145.0v191.5h0.5v-191.5zM450.5 145.0v191.5h0.5v-191.5zM451 180.2v124.9h0.5v-124.9zM451.5 170.9v148.5h0.5v-148.5zM452 171.0v146.7h0.5v-146.7zM452.5 190.9v108.2h0.5v-108.2zM453 178.2v131.2h0.5v-131.2zM453.5 170.7v145.8h0.5v-145.8zM454 140.4v204.4h0.5v-204.4zM454.5 140.4v204.4h0.5v-204.4zM455 92.3v302.6h0.5v-302.6zM455.5 92.3v302.6h0.5v-302.6zM456 160.9v170.1h0.5v-170.1zM456.5 160.9v170.1h0.5v-170.1zM457 176.3v137.2h0.5v-137.2zM457.5 171.5v143.0h0.5v-143.0zM458 171.5v160.3h0.5v-160.3zM458.5 193.4v118.3h0.5v-118.3zM459 215.5v57.5h0.5v-57.5zM459.5 219.9v47.6h0.5v-47.6zM460 215.4v59.2h0.5v-59.2zM460.5 207.4v80.9h0.5v-80.9zM461 175.0v130.3h0.5v-130.3zM461.5 164.9v157.5h0.5v-157.5zM462 165.8v151.3h0.5v-151.3zM462.5 169.5v166.0h0.5v-166.0zM463 169.9v161.2h0.5v-161.2zM463.5 188.1v111.9h0.5v-111.9zM464 193.8v108.0h0.5v-108.0zM464.5 180.7v129.0h0.5v-129.0zM465 161.0v166.9h0.5v-166.9zM465.5 163.0v161.9h0.5v-161.9zM466 221.9v46.0h0.5v-46.0zM466.5 190.6v111.7h0.5v-111.7zM467 173.6v146.0h0.5v-146.0zM467.5 176.4v144.0h0.5v-144.0zM468 226.8v37.8h0.5v-37.8zM468.5 223.7v48.4h0.5v-48.4zM469 191.0v113.5h0.5v-113.5zM469.5 191.0v112.7h0.5v-112.7zM470 205.4v84.3h0.5v-84.3zM470.5 211.4v69.9h0.5v-69.9zM471 176.5v136.6h0.5v-136.6zM471.5 172.5v146.8h0.5v-146.8zM472 190.0v110.2h0.5v-110.2zM472.5 168.1v142.6h0.5v-142.6zM473 155.6v183.6h0.5v-183.6zM473.5 155.8v181.6h0.5v-181.6zM474 175.3v144.1h0.5v-144.1zM474.5 196.4v96.1h0.5v-96.1zM475 195.8v103.9h0.5v-103.9zM475.5 203.5v85.8h0.5v-85.8zM476 200.3v85.2h0.5v-85.2zM476.5 186.0v113.0h0.5v-113.0zM477 193.0v103.5h0.5v-103.5zM477.5 223.7v43.1h0.5v-43.1zM478 203.7v85.4h0.5v-85.4zM478.5 206.7v81.2h0.5v-81.2zM479 213.6v59.6h0.5v-59.6zM479.5 221.0v51.3h0.5v-51.3zM480 214.4v68.4h0.5v-68.4zM480.5 208.0v74.5h0.5v-74.5zM481 197.9v91.7h0.5v-91.7zM481.5 168.9v147.6h0.5v-147.6zM482 168.7v157.4h0.5v-157.4zM482.5 178.9v124.7h0.5v-124.7zM483 180.2v129.6h0.5v-129.6zM483.5 207.7v76.4h0.5v-76.4zM484 213.3v60.0h0.5v-60.0zM484.5 191.1v113.8h0.5v-113.8zM485 190.0v114.5h0.5v-114.5zM485.5 192.0v105.1h0.5v-105.1zM486 202.5v99.6h0.5v-99.6zM486.5 196.1v94.2h0.5v-94.2zM487 187.1v118.4h0.5v-118.4zM487.5 187.1v114.3h0.5v-114.3zM488 151.1v180.0h0.5v-180.0zM488.5 151.1v180.0h0.5v-180.0zM489 182.8v119.8h0.5v-119.8zM489.5 191.0v104.2h0.5v-104.2zM490 194.1v103.6h0.5v-103.6zM490.5 179.7v132.2h0.5v-132.2zM491 182.0v127.2h0.5v-127.2zM491.5 189.0v112.2h0.5v-112.2zM492 191.0v109.6h0.5v-109.6zM492.5 163.2v165.0h0.5v-165.0zM493 140.4v210.4h0.5v-210.4zM493.5 140.4v210.4h0.5v-210.4zM494 146.1v195.9h0.5v-195.9zM494.5 146.1v195.9h0.5v-195.9zM495 169.3v157.5h0.5v-157.5zM495.5 169.5v155.6h0.5v-155.6zM496 194.7v102.9h0.5v-102.9zM496.5 176.4v138.1h0.5v-138.1zM497 160.9v170.1h0.5v-170.1zM497.5 160.9v170.1h0.5v-170.1zM498 94.0v301.8h0.5v-301.8zM498.5 94.0v301.8h0.5v-301.8zM499 78.1v341.6h0.5v-341.6zM499.5 78.1v341.6h0.5v-341.6zM500 94.0v310.9h0.5v-310.9zM500.5 94.0v310.9h0.5v-310.9zM501 160.9v170.1h0.5v-170.1zM501.5 160.9v170.1h0.5v-170.1zM502 174.9v145.3h0.5v-145.3zM502.5 178.3v138.4h0.5v-138.4zM503 200.9v91.7h0.5v-91.7zM503.5 201.9v89.7h0.5v-89.7zM504 194.9v103.8h0.5v-103.8zM504.5 181.5v131.2h0.5v-131.2zM505 140.4v214.8h0.5v-214.8zM505.5 140.4v214.8h0.5v-214.8zM506 175.6v143.1h0.5v-143.1zM506.5 180.5v133.3h0.5v-133.3zM507 193.0v110.3h0.5v-110.3zM507.5 188.5v117.4h0.5v-117.4zM508 183.6v125.3h0.5v-125.3zM508.5 185.9v120.7h0.5v-120.7zM509 147.0v198.9h0.5v-198.9zM509.5 147.0v198.9h0.5v-198.9zM510 169.7v153.2h0.5v-153.2zM510.5 188.4v115.7h0.5v-115.7zM511 193.0v106.5h0.5v-106.5zM511.5 191.3v117.0h0.5v-117.0zM512 177.2v134.3h0.5v-134.3zM512.5 179.0v123.9h0.5v-123.9zM513 187.2v118.5h0.5v-118.5zM513.5 180.2v131.6h0.5v-131.6zM514 144.5v204.4h0.5v-204.4zM514.5 144.5v204.4h0.5v-204.4zM515 147.2v197.5h0.5v-197.5zM515.5 147.2v197.5h0.5v-197.5zM516 142.3v205.2h0.5v-205.2zM516.5 142.3v205.2h0.5v-205.2zM517 172.8v144.8h0.5v-144.8zM517.5 183.3v124.1h0.5v-124.1zM518 202.2v86.6h0.5v-86.6zM518.5 203.8v83.5h0.5v-83.5zM519 211.8v70.9h0.5v-70.9zM519.5 212.4v66.9h0.5v-66.9zM520 195.5v98.9h0.5v-98.9zM520.5 184.9v122.3h0.5v-122.3zM521 190.8v113.9h0.5v-113.9zM521.5 213.9v69.6h0.5v-69.6zM522 225.1v42.5h0.5v-42.5zM522.5 198.9v85.6h0.5v-85.6zM523 190.8v102.8h0.5v-102.8zM523.5 178.4v134.4h0.5v-134.4zM524 179.1v135.8h0.5v-135.8zM524.5 196.2v98.6h0.5v-98.6zM525 162.0v166.3h0.5v-166.3zM525.5 162.0v166.3h0.5v-166.3zM526 188.1v114.7h0.5v-114.7zM526.5 194.7v101.6h0.5v-101.6zM527 179.2v135.8h0.5v-135.8zM527.5 182.6v128.6h0.5v-128.6zM528 204.0v83.2h0.5v-83.2zM528.5 182.6v125.5h0.5v-125.5zM529 162.0v166.3h0.5v-166.3zM529.5 162.0v166.3h0.5v-166.3zM530 187.9v113.5h0.5v-113.5zM530.5 174.1v140.6h0.5v-140.6zM531 151.1v185.5h0.5v-185.5zM531.5 151.1v185.5h0.5v-185.5zM532 184.2v120.8h0.5v-120.8zM532.5 189.9v109.9h0.5v-109.9zM533 178.9v131.6h0.5v-131.6zM533.5 167.4v154.1h0.5v-154.1zM534 140.4v207.2h0.5v-207.2zM534.5 140.4v207.2h0.5v-207.2zM535 114.3v266.4h0.5v-266.4zM535.5 114.3v266.4h0.5v-266.4zM536 115.7v253.8h0.5v-253.8zM536.5 115.7v253.8h0.5v-253.8zM537 169.2v155.5h0.5v-155.5zM537.5 173.3v147.7h0.5v-147.7zM538 193.5v102.3h0.5v-102.3zM538.5 201.6v89.0h0.5v-89.0zM539 202.4v88.9h0.5v-88.9zM539.5 222.7v47.5h0.5v-47.5zM540 200.5v90.7h0.5v-90.7zM540.5 194.2v105.7h0.5v-105.7zM541 196.9v97.0h0.5v-97.0zM541.5 186.5v113.6h0.5v-113.6zM542 186.8v120.4h0.5v-120.4zM542.5 194.0v106.9h0.5v-106.9zM543 188.2v110.0h0.5v-110.0zM543.5 191.3v108.2h0.5v-108.2zM544 201.7v84.7h0.5v-84.7zM544.5 197.7v97.2h0.5v-97.2zM545 186.9v109.7h0.5v-109.7zM545.5 168.2v158.6h0.5v-158.6zM546 168.2v142.2h0.5v-142.2zM546.5 192.6v109.2h0.5v-109.2zM547 201.1v94.7h0.5v-94.7zM547.5 201.7v93.7h0.5v-93.7zM548 201.7v88.9h0.5v-88.9zM548.5 211.2v68.0h0.5v-68.0zM549 210.3v72.3h0.5v-72.3zM549.5 200.7v90.8h0.5v-90.8zM550 168.4v149.7h0.5v-149.7zM550.5 165.8v158.3h0.5v-158.3zM551 181.6v127.2h0.5v-127.2zM551.5 212.2v71.5h0.5v-71.5zM552 218.3v57.1h0.5v-57.1zM552.5 223.4v47.2h0.5v-47.2zM553 178.2v136.7h0.5v-136.7zM553.5 166.0v164.1h0.5v-164.1zM554 165.6v164.6h0.5v-164.6zM554.5 165.6v154.0h0.5v-154.0zM555 148.9v189.0h0.5v-189.0zM555.5 148.9v189.0h0.5v-189.0zM556 179.8v128.8h0.5v-128.8zM556.5 188.3v112.4h0.5v-112.4zM557 190.4v107.0h0.5v-107.0zM557.5 190.4v110.5h0.5v-110.5zM558 222.5v47.9h0.5v-47.9zM558.5 232.3v27.2h0.5v-27.2zM559 215.8v57.8h0.5v-57.8zM559.5 195.9v101.4h0.5v-101.4zM560 186.4v120.4h0.5v-120.4zM560.5 202.9v89.8h0.5v-89.8zM561 202.9v83.9h0.5v-83.9zM561.5 187.5v107.3h0.5v-107.3zM562 193.1v100.3h0.5v-100.3zM562.5 225.1v41.4h0.5v-41.4zM563 204.3v83.1h0.5v-83.1zM563.5 203.4v83.5h0.5v-83.5zM564 212.8v62.4h0.5v-62.4zM564.5 193.3v110.3h0.5v-110.3zM565 193.8v106.2h0.5v-106.2zM565.5 205.2v88.6h0.5v-88.6zM566 206.0v86.4h0.5v-86.4zM566.5 159.8v178.3h0.5v-178.3zM567 144.5v205.8h0.5v-205.8zM567.5 144.5v193.7h0.5v-193.7zM568 165.5v160.6h0.5v-160.6zM568.5 210.7v72.2h0.5v-72.2zM569 206.4v79.7h0.5v-79.7zM569.5 188.1v120.5h0.5v-120.5zM570 186.0v118.2h0.5v-118.2zM570.5 191.4v104.8h0.5v-104.8zM571 195.8v103.5h0.5v-103.5zM571.5 220.7v50.8h0.5v-50.8zM572 209.7v73.6h0.5v-73.6zM572.5 208.6v75.7h0.5v-75.7zM573 188.8v115.7h0.5v-115.7zM573.5 190.7v112.1h0.5v-112.1zM574 157.7v178.9h0.5v-178.9zM574.5 157.7v178.9h0.5v-178.9zM575 176.8v138.5h0.5v-138.5zM575.5 178.6v131.1h0.5v-131.1zM576 182.0v120.1h0.5v-120.1zM576.5 162.0v158.2h0.5v-158.2zM577 120.9v234.9h0.5v-234.9zM577.5 120.9v234.9h0.5v-234.9zM578 106.9v275.7h0.5v-275.7zM578.5 106.9v275.7h0.5v-275.7zM579 106.9v265.3h0.5v-265.3zM579.5 106.9v265.3h0.5v-265.3zM580 151.1v188.2h0.5v-188.2zM580.5 151.1v188.2h0.5v-188.2zM581 178.0v129.7h0.5v-129.7zM581.5 178.5v137.4h0.5v-137.4zM582 182.4v118.9h0.5v-118.9zM582.5 203.9v83.5h0.5v-83.5zM583 207.4v74.0h0.5v-74.0zM583.5 201.7v85.1h0.5v-85.1zM584 200.6v91.9h0.5v-91.9zM584.5 218.2v55.2h0.5v-55.2zM585 199.4v101.2h0.5v-101.2zM585.5 200.5v88.5h0.5v-88.5zM586 200.2v85.5h0.5v-85.5zM586.5 216.1v59.3h0.5v-59.3zM587 224.4v42.3h0.5v-42.3zM587.5 202.3v78.8h0.5v-78.8zM588 175.4v150.5h0.5v-150.5zM588.5 175.4v146.5h0.5v-146.5zM589 176.0v151.1h0.5v-151.1zM589.5 176.0v147.4h0.5v-147.4zM590 193.8v102.1h0.5v-102.1zM590.5 174.3v147.5h0.5v-147.5zM591 178.4v134.2h0.5v-134.2zM591.5 176.7v135.4h0.5v-135.4zM592 151.1v185.5h0.5v-185.5zM592.5 151.1v185.5h0.5v-185.5zM593 174.5v139.8h0.5v-139.8zM593.5 174.6v148.0h0.5v-148.0zM594 186.9v117.3h0.5v-117.3zM594.5 175.3v140.5h0.5v-140.5zM595 140.4v209.9h0.5v-209.9zM595.5 140.4v209.9h0.5v-209.9zM596 147.2v220.9h0.5v-220.9zM596.5 147.2v220.9h0.5v-220.9zM597 140.4v209.9h0.5v-209.9zM597.5 140.4v209.9h0.5v-209.9zM598 178.0v135.0h0.5v-135.0zM598.5 189.6v111.3h0.5v-111.3zM599 182.9v121.2h0.5v-121.2zM599.5 187.6v120.0h0.5v-120.0zM600 200.2v89.9h0.5v-89.9zM600.5 177.9v126.2h0.5v-126.2zM601 176.5v135.5h0.5v-135.5zM601.5 180.0v135.4h0.5v-135.4zM602 177.2v141.2h0.5v-141.2zM602.5 200.1v92.1h0.5v-92.1zM603 231.5v28.6h0.5v-28.6zM603.5 217.6v56.4h0.5v-56.4zM604 215.1v60.7h0.5v-60.7zM604.5 216.4v63.3h0.5v-63.3zM605 215.7v62.5h0.5v-62.5zM605.5 179.7v139.2h0.5v-139.2zM606 178.3v138.7h0.5v-138.7zM606.5 196.1v98.7h0.5v-98.7zM607 214.4v63.9h0.5v-63.9zM607.5 217.0v56.5h0.5v-56.5zM608 229.6v31.7h0.5v-31.7zM608.5 176.7v145.5h0.5v-145.5zM609 171.9v148.5h0.5v-148.5zM609.5 183.6v129.3h0.5v-129.3zM610 231.9v28.3h0.5v-28.3zM610.5 218.4v52.9h0.5v-52.9zM611 205.8v85.6h0.5v-85.6zM611.5 202.1v85.6h0.5v-85.6zM612 190.2v104.7h0.5v-104.7zM612.5 197.9v100.1h0.5v-100.1zM613 210.2v74.5h0.5v-74.5zM613.5 197.4v82.2h0.5v-82.2zM614 196.8v96.7h0.5v-96.7zM614.5 200.7v89.1h0.5v-89.1zM615 178.7v138.6h0.5v-138.6zM615.5 180.5v131.5h0.5v-131.5zM616 184.6v125.3h0.5v-125.3zM616.5 175.9v138.6h0.5v-138.6zM617 181.7v126.0h0.5v-126.0zM617.5 223.3v47.7h0.5v-47.7zM618 193.5v98.3h0.5v-98.3zM618.5 174.7v140.9h0.5v-140.9zM619 174.7v143.9h0.5v-143.9zM619.5 199.6v91.3h0.5v-91.3zM620 198.9v93.6h0.5v-93.6zM620.5 210.8v71.3h0.5v-71.3zM621 184.5v110.5h0.5v-110.5zM621.5 178.5v141.0h0.5v-141.0zM622 172.9v154.1h0.5v-154.1zM622.5 173.9v146.9h0.5v-146.9zM623 160.4v178.1h0.5v-178.1zM623.5 129.1v209.1h0.5v-209.1zM624 156.0v172.3h0.5v-172.3zM624.5 156.0v172.3h0.5v-172.3zM625 187.8v111.5h0.5v-111.5zM625.5 197.0v93.9h0.5v-93.9zM626 190.8v108.4h0.5v-108.4zM626.5 177.8v131.7h0.5v-131.7zM627 181.5v118.1h0.5v-118.1zM627.5 181.5v119.8h0.5v-119.8zM628 181.8v120.2h0.5v-120.2zM628.5 202.6v81.6h0.5v-81.6zM629 195.8v104.5h0.5v-104.5zM629.5 224.8v43.3h0.5v-43.3zM630 213.2v61.7h0.5v-61.7zM630.5 194.8v102.2h0.5v-102.2zM631 195.7v106.1h0.5v-106.1zM631.5 205.7v83.2h0.5v-83.2zM632 218.9v51.0h0.5v-51.0zM632.5 213.1v67.1h0.5v-67.1zM633 215.6v56.5h0.5v-56.5zM633.5 200.1v91.6h0.5v-91.6zM634 199.4v91.6h0.5v-91.6zM634.5 204.5v80.7h0.5v-80.7zM635 211.4v67.3h0.5v-67.3zM635.5 204.7v77.9h0.5v-77.9zM636 189.9v105.7h0.5v-105.7zM636.5 186.3v112.4h0.5v-112.4zM637 153.0v175.3h0.5v-175.3zM637.5 153.0v175.3h0.5v-175.3zM638 180.6v123.2h0.5v-123.2zM638.5 188.4v108.5h0.5v-108.5zM639 203.6v86.8h0.5v-86.8zM639.5 203.4v89.2h0.5v-89.2zM640 201.1v87.4h0.5v-87.4zM640.5 201.9v81.0h0.5v-81.0zM641 188.8v110.2h0.5v-110.2zM641.5 188.8v117.6h0.5v-117.6zM642 226.2v42.1h0.5v-42.1zM642.5 232.3v25.8h0.5v-25.8zM643 224.9v42.6h0.5v-42.6zM643.5 207.1v80.8h0.5v-80.8zM644 191.8v113.0h0.5v-113.0zM644.5 191.8v106.1h0.5v-106.1zM645 201.1v83.4h0.5v-83.4zM645.5 210.5v71.2h0.5v-71.2zM646 172.4v141.7h0.5v-141.7zM646.5 171.8v160.1h0.5v-160.1zM647 195.9v97.8h0.5v-97.8zM647.5 208.1v73.1h0.5v-73.1zM648 212.8v66.3h0.5v-66.3zM648.5 200.1v85.7h0.5v-85.7zM649 166.1v162.8h0.5v-162.8zM649.5 163.2v158.2h0.5v-158.2zM650 168.0v149.6h0.5v-149.6zM650.5 182.8v122.4h0.5v-122.4zM651 197.7v97.2h0.5v-97.2zM651.5 206.5v79.6h0.5v-79.6zM652 193.2v105.8h0.5v-105.8zM652.5 164.8v148.3h0.5v-148.3zM653 164.2v148.7h0.5v-148.7zM653.5 199.3v92.1h0.5v-92.1zM654 228.5v35.8h0.5v-35.8zM654.5 214.2v63.6h0.5v-63.6zM655 208.7v68.2h0.5v-68.2zM655.5 205.4v84.6h0.5v-84.6zM656 179.3v121.7h0.5v-121.7zM656.5 180.3v126.8h0.5v-126.8zM657 181.2v126.5h0.5v-126.5zM657.5 182.0v128.9h0.5v-128.9zM658 215.0v57.5h0.5v-57.5zM658.5 215.1v63.2h0.5v-63.2zM659 173.2v141.5h0.5v-141.5zM659.5 172.2v139.1h0.5v-139.1zM660 175.6v136.8h0.5v-136.8zM660.5 179.1v143.7h0.5v-143.7zM661 192.7v105.6h0.5v-105.6zM661.5 188.7v113.7h0.5v-113.7zM662 151.1v188.2h0.5v-188.2zM662.5 151.1v188.2h0.5v-188.2zM663 144.2v208.5h0.5v-208.5zM663.5 144.2v208.5h0.5v-208.5zM664 170.1v155.4h0.5v-155.4zM664.5 176.0v141.4h0.5v-141.4zM665 180.5v130.4h0.5v-130.4zM665.5 202.8v86.0h0.5v-86.0zM666 195.0v99.6h0.5v-99.6zM666.5 166.4v155.3h0.5v-155.3zM667 145.0v197.0h0.5v-197.0zM667.5 145.0v197.0h0.5v-197.0zM668 148.9v193.2h0.5v-193.2zM668.5 148.9v193.2h0.5v-193.2zM669 169.2v152.7h0.5v-152.7zM669.5 140.4v215.1h0.5v-215.1zM670 174.8v145.0h0.5v-145.0zM670.5 192.8v108.3h0.5v-108.3zM671 202.8v88.0h0.5v-88.0zM671.5 205.0v83.5h0.5v-83.5zM672 189.0v113.4h0.5v-113.4zM672.5 188.3v120.9h0.5v-120.9zM673 190.6v107.7h0.5v-107.7zM673.5 190.6v112.3h0.5v-112.3zM674 204.4v85.3h0.5v-85.3zM674.5 197.3v99.7h0.5v-99.7zM675 194.6v105.3h0.5v-105.3zM675.5 174.7v146.1h0.5v-146.1zM676 151.9v192.9h0.5v-192.9zM676.5 151.9v192.9h0.5v-192.9zM677 153.0v200.6h0.5v-200.6zM677.5 153.0v200.6h0.5v-200.6zM678 188.7v123.7h0.5v-123.7zM678.5 183.4v132.7h0.5v-132.7zM679 187.4v113.0h0.5v-113.0zM679.5 196.5v94.2h0.5v-94.2zM680 216.5v59.1h0.5v-59.1zM680.5 200.1v94.3h0.5v-94.3zM681 204.9v86.6h0.5v-86.6zM681.5 217.4v59.4h0.5v-59.4zM682 212.0v70.1h0.5v-70.1zM682.5 218.6v57.6h0.5v-57.6zM683 213.2v61.0h0.5v-61.0zM683.5 216.9v58.8h0.5v-58.8zM684 226.2v39.7h0.5v-39.7zM684.5 222.1v48.2h0.5v-48.2zM685 225.2v42.7h0.5v-42.7zM685.5 205.0v91.4h0.5v-91.4zM686 203.7v83.5h0.5v-83.5zM686.5 202.5v83.4h0.5v-83.4zM687 202.8v82.5h0.5v-82.5zM687.5 212.1v67.9h0.5v-67.9zM688 202.7v85.1h0.5v-85.1zM688.5 176.8v144.8h0.5v-144.8zM689 176.2v130.9h0.5v-130.9zM689.5 187.7v119.8h0.5v-119.8zM690 199.9v92.4h0.5v-92.4zM690.5 209.5v75.2h0.5v-75.2zM691 182.0v125.0h0.5v-125.0zM691.5 182.7v127.4h0.5v-127.4zM692 199.5v98.5h0.5v-98.5zM692.5 173.9v138.5h0.5v-138.5zM693 171.8v148.0h0.5v-148.0zM693.5 208.9v77.8h0.5v-77.8zM694 228.7v32.7h0.5v-32.7zM694.5 211.9v68.9h0.5v-68.9zM695 187.1v123.0h0.5v-123.0zM695.5 184.0v120.1h0.5v-120.1zM696 185.4v113.6h0.5v-113.6zM696.5 194.8v102.4h0.5v-102.4zM697 215.0v63.1h0.5v-63.1zM697.5 214.5v66.0h0.5v-66.0zM698 214.7v65.8h0.5v-65.8zM698.5 207.4v76.8h0.5v-76.8zM699 196.3v103.8h0.5v-103.8zM699.5 191.1v105.4h0.5v-105.4zM700 187.6v113.6h0.5v-113.6zM700.5 186.6v114.1h0.5v-114.1zM701 190.2v102.5h0.5v-102.5zM701.5 178.9v123.3h0.5v-123.3zM702 137.9v198.6h0.5v-198.6zM702.5 137.9v198.6h0.5v-198.6zM703 177.9v125.1h0.5v-125.1zM703.5 176.3v128.0h0.5v-128.0zM704 193.5v106.0h0.5v-106.0zM704.5 181.6v130.6h0.5v-130.6zM705 184.0v121.4h0.5v-121.4zM705.5 207.0v82.7h0.5v-82.7zM706 210.7v64.5h0.5v-64.5zM706.5 218.4v55.2h0.5v-55.2zM707 195.9v97.0h0.5v-97.0zM707.5 170.0v153.5h0.5v-153.5zM708 164.9v155.4h0.5v-155.4zM708.5 176.0v132.8h0.5v-132.8zM709 171.1v143.5h0.5v-143.5zM709.5 171.1v143.5h0.5v-143.5zM710 189.4v108.4h0.5v-108.4zM710.5 200.1v92.4h0.5v-92.4zM711 196.8v92.6h0.5v-92.6zM711.5 184.0v120.8h0.5v-120.8zM712 202.1v90.5h0.5v-90.5zM712.5 202.1v90.5h0.5v-90.5zM713 221.3v52.1h0.5v-52.1zM713.5 221.3v52.1h0.5v-52.1zM714 243.3v5.5h0.5v-5.5zM714.5 243.0v6.5h0.5v-6.5zM715 243.6v5.3h0.5v-5.3zM715.5 243.6v5.5h0.5v-5.5zM716 242.5v6.3h0.5v-6.3zM716.5 243.5v6.0h0.5v-6.0zM717 243.0v6.4h0.5v-6.4zM717.5 243.1v6.7h0.5v-6.7zM718 242.2v6.6h0.5v-6.6zM718.5 242.9v6.8h0.5v-6.8zM719 242.2v7.5h0.5v-7.5zM719.5 242.3v6.7h0.5v-6.7zM720 242.3v6.2h0.5v-6.2zM720.5 242.4v6.1h0.5v-6.1zM721 242.2v6.7h0.5v-6.7zM721.5 242.8v5.6h0.5v-5.6zM722 242.6v7.0h0.5v-7.0zM722.5 242.3v7.4h0.5v-7.4zM723 243.1v6.5h0.5v-6.5zM723.5 243.2v5.2h0.5v-5.2zM724 243.2v6.4h0.5v-6.4zM724.5 242.2v7.0h0.5v-7.0zM725 243.6v5.9h0.5v-5.9zM725.5 243.7v4.8h0.5v-4.8zM726 243.4v6.2h0.5v-6.2zM726.5 243.5v5.1h0.5v-5.1zM727 242.2v6.7h0.5v-6.7zM727.5 243.0v5.6h0.5v-5.6zM728 242.2v7.5h0.5v-7.5zM728.5 243.5v5.7h0.5v-5.7zM729 242.2v7.3h0.5v-7.3zM729.5 243.3v5.4h0.5v-5.4zM730 242.2v7.0h0.5v-7.0zM730.5 243.5v6.1h0.5v-6.1zM731 243.6v6.0h0.5v-6.0zM731.5 242.5v6.4h0.5v-6.4zM732 243.2v6.1h0.5v-6.1zM732.5 243.2v6.3h0.5v-6.3zM733 242.3v6.1h0.5v-6.1zM733.5 242.2v7.6h0.5v-7.6zM734 243.3v5.1h0.5v-5.1zM734.5 243.3v6.1h0.5v-6.1zM735 242.4v6.1h0.5v-6.1zM735.5 242.7v6.2h0.5v-6.2zM736 243.5v5.6h0.5v-5.6zM736.5 243.1v5.8h0.5v-5.8zM737 243.1v6.6h0.5v-6.6zM737.5 242.3v6.8h0.5v-6.8zM738 243.4v5.1h0.5v-5.1zM738.5 242.5v6.7h0.5v-6.7zM739 243.6v5.9h0.5v-5.9zM739.5 242.7v6.8h0.5v-6.8zM740 242.4v6.1h0.5v-6.1zM740.5 243.5v6.1h0.5v-6.1zM741 242.5v5.9h0.5v-5.9zM741.5 243.1v6.5h0.5v-6.5zM742 243.1v5.8h0.5v-5.8zM742.5 242.8v6.0h0.5v-6.0zM743 242.5v6.1h0.5v-6.1zM743.5 242.5v6.0h0.5v-6.0zM744 243.5v6.2h0.5v-6.2zM744.5 243.6v5.2h0.5v-5.2zM745 242.9v6.4h0.5v-6.4zM745.5 242.9v5.5h0.5v-5.5zM746 242.9v6.2h0.5v-6.2zM746.5 242.9v6.4h0.5v-6.4zM747 242.3v7.3h0.5v-7.3zM747.5 242.6v7.2h0.5v-7.2zM748 243.4v6.3h0.5v-6.3zM748.5 242.3v6.3h0.5v-6.3zM749 242.3v7.0h0.5v-7.0zM749.5 243.6v6.0h0.5v-6.0zM750 243.6v5.7h0.5v-5.7zM750.5 242.7v6.7h0.5v-6.7zM751 242.7v7.0h0.5v-7.0zM751.5 243.0v6.4h0.5v-6.4zM752 242.7v6.3h0.5v-6.3zM752.5 242.5v6.9h0.5v-6.9zM753 243.3v5.7h0.5v-5.7zM753.5 242.4v6.4h0.5v-6.4zM754 242.3v6.7h0.5v-6.7zM754.5 243.1v5.6h0.5v-5.6zM755 243.6v6.0h0.5v-6.0zM755.5 243.1v5.4h0.5v-5.4zM756 243.0v6.2h0.5v-6.2zM756.5 242.7v6.2h0.5v-6.2zM757 243.3v5.2h0.5v-5.2zM757.5 242.2v7.5h0.5v-7.5zM758 242.8v5.8h0.5v-5.8zM758.5 242.2v6.5h0.5v-6.5zM759 242.2v6.3h0.5v-6.3zM759.5 242.6v7.2h0.5v-7.2zM760 242.6v7.0h0.5v-7.0zM760.5 243.1v6.5h0.5v-6.5zM761 243.0v5.5h0.5v-5.5zM761.5 242.9v5.9h0.5v-5.9zM762 243.4v6.4h0.5v-6.4zM762.5 242.9v6.3h0.5v-6.3zM763 243.1v5.3h0.5v-5.3zM763.5 243.1v6.0h0.5v-6.0zM764 243.5v5.7h0.5v-5.7zM764.5 242.7v7.0h0.5v-7.0zM765 243.5v6.0h0.5v-6.0zM765.5 243.6v6.2h0.5v-6.2zM766 242.8v6.9h0.5v-6.9zM766.5 242.5v7.2h0.5v-7.2zM767 242.9v5.9h0.5v-5.9zM767.5 243.4v6.2h0.5v-6.2zM768 243.6v5.7h0.5v-5.7zM768.5 243.0v6.4h0.5v-6.4zM769 243.1v6.5h0.5v-6.5zM769.5 243.5v5.3h0.5v-5.3zM770 243.7v5.3h0.5v-5.3zM770.5 242.6v6.8h0.5v-6.8zM771 242.2v6.6h0.5v-6.6zM771.5 243.2v6.1h0.5v-6.1zM772 242.6v5.9h0.5v-5.9zM772.5 243.5v5.0h0.5v-5.0zM773 242.6v5.8h0.5v-5.8zM773.5 243.6v5.7h0.5v-5.7zM774 243.4v5.3h0.5v-5.3zM774.5 243.3v6.3h0.5v-6.3zM775 242.5v6.0h0.5v-6.0zM775.5 242.2v7.2h0.5v-7.2zM776 243.4v5.3h0.5v-5.3zM776.5 243.3v5.4h0.5v-5.4zM777 242.7v6.6h0.5v-6.6zM777.5 243.5v5.9h0.5v-5.9zM778 242.8v6.0h0.5v-6.0zM778.5 243.1v6.4h0.5v-6.4zM779 242.6v6.5h0.5v-6.5zM779.5 243.0v6.0h0.5v-6.0zM780 242.4v7.1h0.5v-7.1zM780.5 242.8v6.8h0.5v-6.8zM781 243.0v6.7h0.5v-6.7zM781.5 242.6v6.5h0.5v-6.5zM782 243.6v4.9h0.5v-4.9zM782.5 243.5v5.0h0.5v-5.0zM783 242.7v6.6h0.5v-6.6zM783.5 243.3v6.5h0.5v-6.5zM784 242.2v6.3h0.5v-6.3zM784.5 242.9v5.5h0.5v-5.5zM785 243.4v5.5h0.5v-5.5zM785.5 242.6v7.2h0.5v-7.2zM786 242.5v6.4h0.5v-6.4zM786.5 242.9v5.9h0.5v-5.9zM787 243.2v5.6h0.5v-5.6zM787.5 242.2v7.6h0.5v-7.6zM788 242.5v6.7h0.5v-6.7zM788.5 242.4v6.9h0.5v-6.9zM789 243.5v5.6h0.5v-5.6zM789.5 243.3v5.9h0.5v-5.9zM790 243.0v6.1h0.5v-6.1zM790.5 242.5v6.3h0.5v-6.3zM791 243.5v5.9h0.5v-5.9zM791.5 242.3v7.0h0.5v-7.0zM792 243.3v5.5h0.5v-5.5zM792.5 242.5v6.3h0.5v-6.3zM793 243.0v6.0h0.5v-6.0zM793.5 243.6v5.1h0.5v-5.1zM794 243.3v5.6h0.5v-5.6zM794.5 242.3v6.4h0.5v-6.4zM795 242.7v5.7h0.5v-5.7zM795.5 243.1v6.0h0.5v-6.0zM796 243.5v5.5h0.5v-5.5zM796.5 243.3v6.1h0.5v-6.1zM797 243.5v5.1h0.5v-5.1zM797.5 242.3v6.3h0.5v-6.3zM798 243.1v5.4h0.5v-5.4zM798.5 243.2v6.3h0.5v-6.3zM799 243.3v5.7h0.5v-5.7zM799.5 243.2v6.0h0.5v-6.0zM800 243.5v5.7h0.5v-5.7zM800.5 243.6v5.7h0.5v-5.7zM801 242.4v7.1h0.5v-7.1zM801.5 242.3v6.4h0.5v-6.4zM802 242.4v6.5h0.5v-6.5zM802.5 242.8v6.8h0.5v-6.8zM803 243.7v5.8h0.5v-5.8zM803.5 242.3v6.8h0.5v-6.8zM804 243.3v5.8h0.5v-5.8zM804.5 242.2v6.3h0.5v-6.3zM805 243.2v5.8h0.5v-5.8zM805.5 242.7v6.2h0.5v-6.2zM806 242.2v6.5h0.5v-6.5zM806.5 243.1v6.3h0.5v-6.3zM807 243.0v5.5h0.5v-5.5zM807.5 243.6v5.7h0.5v-5.7zM808 243.5v5.3h0.5v-5.3zM808.5 243.6v5.8h0.5v-5.8zM809 243.5v5.8h0.5v-5.8zM809.5 242.5v6.4h0.5v-6.4zM810 243.2v6.3h0.5v-6.3zM810.5 243.6v5.8h0.5v-5.8zM811 242.4v5.9h0.5v-5.9zM811.5 242.3v7.0h0.5v-7.0zM812 242.6v7.0h0.5v-7.0zM812.5 243.3v6.5h0.5v-6.5zM813 242.5v6.1h0.5v-6.1zM813.5 242.5v6.5h0.5v-6.5zM814 243.0v5.6h0.5v-5.6zM814.5 243.0v6.7h0.5v-6.7zM815 243.3v5.1h0.5v-5.1zM815.5 242.5v7.1h0.5v-7.1zM816 242.2v6.9h0.5v-6.9zM816.5 243.5v5.5h0.5v-5.5zM817 243.5v6.1h0.5v-6.1zM817.5 243.2v5.4h0.5v-5.4zM818 243.1v6.0h0.5v-6.0zM818.5 243.1v6.2h0.5v-6.2zM819 242.6v6.9h0.5v-6.9zM819.5 242.4v6.8h0.5v-6.8zM820 242.2v7.5h0.5v-7.5zM820.5 243.2v6.4h0.5v-6.4zM821 242.4v6.6h0.5v-6.6zM821.5 242.5v5.9h0.5v-5.9zM822 242.6v7.1h0.5v-7.1zM822.5 242.7v6.1h0.5v-6.1zM823 242.2v6.4h0.5v-6.4zM823.5 242.3v6.6h0.5v-6.6zM824 243.4v6.1h0.5v-6.1zM824.5 243.1v5.6h0.5v-5.6zM825 242.5v5.9h0.5v-5.9zM825.5 243.5v6.3h0.5v-6.3zM826 243.5v5.1h0.5v-5.1zM826.5 242.4v6.5h0.5v-6.5zM827 242.3v7.2h0.5v-7.2zM827.5 242.9v6.3h0.5v-6.3zM828 242.6v6.8h0.5v-6.8zM828.5 243.5v5.0h0.5v-5.0zM829 243.1v6.0h0.5v-6.0zM829.5 243.2v6.7h0.5v-6.7zM830 242.8v6.6h0.5v-6.6zM830.5 243.2v6.1h0.5v-6.1zM831 243.6v5.0h0.5v-5.0zM831.5 243.2v6.6h0.5v-6.6zM832 242.7v5.8h0.5v-5.8zM832.5 243.6v5.4h0.5v-5.4zM833 242.2v6.6h0.5v-6.6zM833.5 242.8v6.0h0.5v-6.0zM834 243.3v5.6h0.5v-5.6zM834.5 242.7v6.4h0.5v-6.4zM835 243.4v5.9h0.5v-5.9zM835.5 242.7v6.7h0.5v-6.7zM836 243.0v6.5h0.5v-6.5zM836.5 243.6v5.8h0.5v-5.8zM837 243.1v6.5h0.5v-6.5zM837.5 242.7v6.5h0.5v-6.5zM838 242.5v7.2h0.5v-7.2zM838.5 242.5v6.6h0.5v-6.6zM839 242.8v6.3h0.5v-6.3zM839.5 242.9v6.3h0.5v-6.3zM840 242.9v5.7h0.5v-5.7zM840.5 242.6v7.1h0.5v-7.1zM841 242.2v6.4h0.5v-6.4zM841.5 243.1v6.6h0.5v-6.6zM842 242.9v5.5h0.5v-5.5zM842.5 243.3v5.4h0.5v-5.4zM843 243.2v5.7h0.5v-5.7zM843.5 242.2v7.1h0.5v-7.1zM844 243.3v6.2h0.5v-6.2zM844.5 242.8v6.0h0.5v-6.0zM845 242.8v5.9h0.5v-5.9zM845.5 243.5v5.7h0.5v-5.7zM846 243.7v5.3h0.5v-5.3zM846.5 242.2v7.0h0.5v-7.0zM847 242.6v6.4h0.5v-6.4zM847.5 243.3v5.8h0.5v-5.8zM848 243.5v5.0h0.5v-5.0zM848.5 242.6v7.2h0.5v-7.2zM849 243.0v5.8h0.5v-5.8zM849.5 242.2v6.2h0.5v-6.2zM850 243.4v6.3h0.5v-6.3zM850.5 243.4v5.6h0.5v-5.6zM851 242.6v6.3h0.5v-6.3zM851.5 243.4v5.8h0.5v-5.8zM852 243.2v6.2h0.5v-6.2zM852.5 243.1v6.5h0.5v-6.5zM853 243.4v5.1h0.5v-5.1zM853.5 242.7v6.9h0.5v-6.9zM854 243.5v4.9h0.5v-4.9zM854.5 243.6v5.0h0.5v-5.0zM855 242.5v6.8h0.5v-6.8zM855.5 242.5v6.1h0.5v-6.1zM856 242.4v6.1h0.5v-6.1zM856.5 243.4v5.0h0.5v-5.0zM857 243.6v6.0h0.5v-6.0zM857.5 242.6v7.2h0.5v-7.2zM858 242.6v7.0h0.5v-7.0zM858.5 242.5v6.4h0.5v-6.4zM859 242.2v7.4h0.5v-7.4zM859.5 242.3v7.3h0.5v-7.3zM860 242.9v5.7h0.5v-5.7zM860.5 243.1v5.6h0.5v-5.6zM861 243.6v5.0h0.5v-5.0zM861.5 242.3v6.0h0.5v-6.0zM862 242.6v7.1h0.5v-7.1zM862.5 242.6v7.1h0.5v-7.1zM863 243.6v5.4h0.5v-5.4zM863.5 242.5v6.7h0.5v-6.7zM864 243.6v5.0h0.5v-5.0zM864.5 243.3v5.5h0.5v-5.5zM865 243.1v6.3h0.5v-6.3zM865.5 243.2v6.5h0.5v-6.5zM866 242.5v7.3h0.5v-7.3zM866.5 242.9v5.9h0.5v-5.9zM867 242.4v7.0h0.5v-7.0zM867.5 242.6v6.8h0.5v-6.8zM868 243.6v5.3h0.5v-5.3zM868.5 243.4v6.0h0.5v-6.0zM869 243.1v5.9h0.5v-5.9zM869.5 243.3v5.1h0.5v-5.1zM870 242.3v6.0h0.5v-6.0zM870.5 242.7v6.7h0.5v-6.7zM871 243.6v6.2h0.5v-6.2zM871.5 243.5v5.8h0.5v-5.8zM872 242.6v7.1h0.5v-7.1zM872.5 243.3v5.4h0.5v-5.4zM873 243.0v6.6h0.5v-6.6zM873.5 243.1v6.2h0.5v-6.2zM874 243.6v4.7h0.5v-4.7zM874.5 242.7v6.5h0.5v-6.5zM875 242.3v7.4h0.5v-7.4zM875.5 243.0v5.9h0.5v-5.9zM876 243.3v5.3h0.5v-5.3zM876.5 243.3v5.3h0.5v-5.3zM877 243.1v5.9h0.5v-5.9zM877.5 243.1v5.7h0.5v-5.7zM878 243.2v6.1h0.5v-6.1zM878.5 243.1v5.8h0.5v-5.8zM879 243.5v4.9h0.5v-4.9zM879.5 243.5v5.7h0.5v-5.7zM880 242.5v6.9h0.5v-6.9zM880.5 242.4v7.2h0.5v-7.2zM881 243.6v6.1h0.5v-6.1zM881.5 243.4v5.9h0.5v-5.9zM882 242.7v6.8h0.5v-6.8zM882.5 242.3v7.0h0.5v-7.0zM883 243.0v6.7h0.5v-6.7zM883.5 243.4v5.0h0.5v-5.0zM884 243.4v5.9h0.5v-5.9zM884.5 242.7v7.0h0.5v-7.0zM885 242.2v7.1h0.5v-7.1zM885.5 243.2v6.3h0.5v-6.3zM886 243.4v5.9h0.5v-5.9zM886.5 243.6v5.4h0.5v-5.4zM887 242.4v6.5h0.5v-6.5zM887.5 242.7v7.1h0.5v-7.1zM888 242.9v6.7h0.5v-6.7zM888.5 242.9v6.2h0.5v-6.2zM889 242.4v6.2h0.5v-6.2zM889.5 243.6v4.9h0.5v-4.9zM890 242.4v6.1h0.5v-6.1zM890.5 243.4v5.0h0.5v-5.0zM891 242.6v6.2h0.5v-6.2zM891.5 243.5v5.7h0.5v-5.7zM892 242.6v6.0h0.5v-6.0zM892.5 242.9v5.9h0.5v-5.9zM893 242.6v6.8h0.5v-6.8zM893.5 242.9v6.3h0.5v-6.3zM894 242.7v6.4h0.5v-6.4zM894.5 243.4v5.3h0.5v-5.3zM895 242.4v7.2h0.5v-7.2zM895.5 242.5v6.8h0.5v-6.8zM896 242.7v6.8h0.5v-6.8zM896.5 243.5v5.5h0.5v-5.5zM897 242.7v6.2h0.5v-6.2zM897.5 242.6v6.2h0.5v-6.2zM898 243.3v6.5h0.5v-6.5zM898.5 243.7v5.6h0.5v-5.6zM899 242.9v6.1h0.5v-6.1zM899.5 242.5v6.0h0.5v-6.0zM900 242.5v6.4h0.5v-6.4zM900.5 243.0v5.7h0.5v-5.7zM901 243.4v5.3h0.5v-5.3zM901.5 243.1v6.2h0.5v-6.2zM902 242.3v7.4h0.5v-7.4zM902.5 242.7v6.4h0.5v-6.4zM903 242.9v6.2h0.5v-6.2zM903.5 242.5v6.4h0.5v-6.4zM904 243.3v6.0h0.5v-6.0zM904.5 242.7v6.3h0.5v-6.3zM905 243.0v6.6h0.5v-6.6zM905.5 242.6v6.0h0.5v-6.0zM906 242.4v6.5h0.5v-6.5zM906.5 243.4v6.3h0.5v-6.3zM907 243.4v5.2h0.5v-5.2zM907.5 243.2v5.4h0.5v-5.4zM908 242.9v6.2h0.5v-6.2zM908.5 242.6v6.7h0.5v-6.7zM909 243.2v6.5h0.5v-6.5zM909.5 242.7v5.9h0.5v-5.9zM910 243.4v6.3h0.5v-6.3zM910.5 242.3v7.3h0.5v-7.3zM911 243.1v6.5h0.5v-6.5zM911.5 243.4v5.8h0.5v-5.8zM912 243.1v5.6h0.5v-5.6zM912.5 243.0v5.3h0.5v-5.3zM913 242.6v6.8h0.5v-6.8zM913.5 243.1v6.6h0.5v-6.6zM914 242.9v6.1h0.5v-6.1zM914.5 242.5v6.3h0.5v-6.3zM915 242.4v7.0h0.5v-7.0zM915.5 242.8v6.1h0.5v-6.1zM916 243.6v6.1h0.5v-6.1zM916.5 242.2v7.3h0.5v-7.3zM917 242.7v6.1h0.5v-6.1zM917.5 242.8v6.1h0.5v-6.1zM918 242.2v6.5h0.5v-6.5zM918.5 243.0v6.3h0.5v-6.3zM919 243.5v5.1h0.5v-5.1zM919.5 242.4v6.6h0.5v-6.6zM920 243.5v6.2h0.5v-6.2zM920.5 243.6v5.9h0.5v-5.9zM921 242.3v6.1h0.5v-6.1zM921.5 242.6v6.9h0.5v-6.9zM922 242.5v6.3h0.5v-6.3zM922.5 243.5v6.1h0.5v-6.1zM923 242.8v6.4h0.5v-6.4zM923.5 243.1v5.6h0.5v-5.6zM924 243.6v6.2h0.5v-6.2zM924.5 243.3v6.3h0.5v-6.3zM925 242.4v6.6h0.5v-6.6zM925.5 243.6v5.7h0.5v-5.7zM926 243.5v5.3h0.5v-5.3zM926.5 242.3v6.1h0.5v-6.1zM927 243.4v6.3h0.5v-6.3zM927.5 243.4v6.1h0.5v-6.1z"/>
</g>
<g font-family="Liberation Sans, Arial, Helvetica, sans-serif" font-size="17" fill="#262626">
<text x="59.80" y="491" text-anchor="middle">0</text>
<text x="233.40" y="491" text-anchor="middle">0.5</text>
<text x="407.00" y="491" text-anchor="middle">1</text>
<text x="580.60" y="491" text-anchor="middle">1.5</text>
<text x="754.20" y="491" text-anchor="middle">2</text>
<text x="926.60" y="491" text-anchor="middle">2.5</text>
<text x="52.5" y="33.40" text-anchor="end">0.8</text>
<text x="52.5" y="88.28" text-anchor="end">0.6</text>
<text x="52.5" y="143.15" text-anchor="end">0.4</text>
<text x="52.5" y="198.03" text-anchor="end">0.2</text>
<text x="52.5" y="252.90" text-anchor="end">0</text>
<text x="52.5" y="307.77" text-anchor="end">-0.2</text>
<text x="52.5" y="362.65" text-anchor="end">-0.4</text>
<text x="52.5" y="417.52" text-anchor="end">-0.6</text>
<text x="52.5" y="472.40" text-anchor="end">-0.8</text>
<text x="887.1" y="519.3" font-size="18.5">×</text><text x="900.4" y="517.3">10</text><text x="918.7" y="509.8" font-size="12.6">4</text>
</g>
<text font-family="Liberation Sans, Arial, Helvetica, sans-serif" font-size="22.6" fill="#0000FF" x="246.3" y="16.8" textLength="494.8" lengthAdjust="spacingAndGlyphs">Polarization Diversity Coherent Receiver Module</text>
<text font-family="Liberation Sans, Arial, Helvetica, sans-serif" font-size="18.4" fill="#0000FF" x="493.7" y="514.6" text-anchor="middle">Points</text>
<text font-family="Liberation Sans, Arial, Helvetica, sans-serif" font-size="18.4" fill="#0000FF" transform="translate(13.5 246.3) rotate(-90)" text-anchor="middle">Voltage(V)</text>
<rect x="788.5" y="43.5" width="122" height="44" fill="#fff" stroke="#262626" stroke-width="1"/>
<path d="M793 55.5H830" stroke="#0072BD" stroke-width="1"/><path d="M793 75.5H830" stroke="#D95319" stroke-width="1"/>
<g font-family="Liberation Sans, Arial, Helvetica, sans-serif" font-size="15" fill="#000"><text x="834" y="60.7">P-RF OUT</text><text x="834" y="80.7">S-RF OUT</text></g>
</svg>
</body></html>
